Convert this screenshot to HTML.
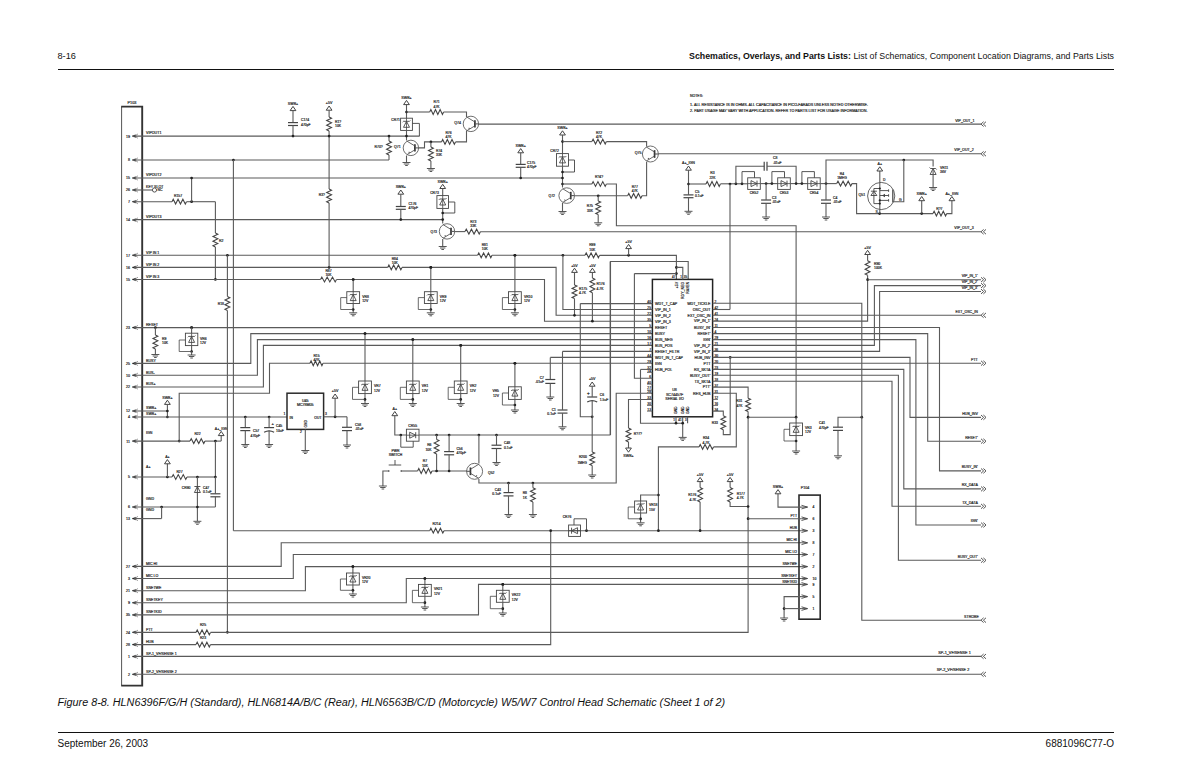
<!DOCTYPE html>
<html><head><meta charset="utf-8">
<style>
html,body{margin:0;padding:0;background:#fff;}
body{width:1200px;height:776px;position:relative;overflow:hidden;font-family:"Liberation Sans",sans-serif;color:#111;}
.t{position:absolute;white-space:nowrap;line-height:1;}
.hr{position:absolute;background:#111;height:1.4px;}
svg{position:absolute;left:0;top:0;}
svg text{font-family:"Liberation Sans",sans-serif;stroke:#222;stroke-width:0.18px;}
</style></head><body>
<div class="t" id="pg" style="left:57.5px;top:52.3px;font-size:9.2px;">8-16</div>
<div class="t" id="ttl" style="right:86px;top:52.2px;font-size:8.8px;"><b>Schematics, Overlays, and Parts Lists:</b> List of Schematics, Component Location Diagrams, and Parts Lists</div>
<div class="hr" style="left:58px;top:68.6px;width:1056px;"></div>
<div class="t" id="cap" style="left:57.5px;top:697px;font-size:10.82px;font-style:italic;">Figure 8-8. HLN6396F/G/H (Standard), HLN6814A/B/C (Rear), HLN6563B/C/D (Motorcycle) W5/W7 Control Head Schematic (Sheet 1 of 2)</div>
<div class="hr" style="left:58px;top:731.9px;width:1056px;"></div>
<div class="t" id="date" style="left:57.5px;top:738.5px;font-size:10px;">September 26, 2003</div>
<div class="t" id="doc" style="right:86px;top:738.7px;font-size:10px;">6881096C77-O</div>
<svg width="1200" height="776" viewBox="0 0 1200 776" id="sch" font-family="Liberation Sans, sans-serif">
<text x="132" y="104.2" font-size="3.8" text-anchor="middle" fill="#1a1a1a">P103</text>
<path d="M121.6,106.6V685.6" stroke="#555" stroke-width="1" fill="none"/>
<path d="M121.2,106.6H142.2V685.6H121.2" stroke="#333" stroke-width="1.9" fill="none"/>
<text x="130" y="137.5" font-size="3.6" text-anchor="end" fill="#1a1a1a">19</text>
<path d="M132,136.1L135.7,134.8V137.4Z" fill="#222" stroke="#222" stroke-width="0.4"/>
<path d="M138,133.9L134.6,136.1L138,138.3" fill="none" stroke="#777" stroke-width="0.7"/>
<text x="146" y="134.4" font-size="3.6" text-anchor="start" fill="#1a1a1a">VIPOUT1</text>
<text x="130" y="161.4" font-size="3.6" text-anchor="end" fill="#1a1a1a">8</text>
<path d="M132,160L135.7,158.7V161.3Z" fill="#222" stroke="#222" stroke-width="0.4"/>
<path d="M138,157.8L134.6,160L138,162.2" fill="none" stroke="#777" stroke-width="0.7"/>
<text x="130" y="179.4" font-size="3.6" text-anchor="end" fill="#1a1a1a">15</text>
<path d="M132,178L135.7,176.7V179.3Z" fill="#222" stroke="#222" stroke-width="0.4"/>
<path d="M138,175.8L134.6,178L138,180.2" fill="none" stroke="#777" stroke-width="0.7"/>
<text x="146" y="176.3" font-size="3.6" text-anchor="start" fill="#1a1a1a">VIPOUT2</text>
<text x="130" y="191.4" font-size="3.6" text-anchor="end" fill="#1a1a1a">26</text>
<path d="M132,190L135.7,188.7V191.3Z" fill="#222" stroke="#222" stroke-width="0.4"/>
<path d="M138,187.8L134.6,190L138,192.2" fill="none" stroke="#777" stroke-width="0.7"/>
<text x="146" y="188.3" font-size="3.6" text-anchor="start" fill="#1a1a1a">KEY SLOT</text>
<text x="130" y="203.1" font-size="3.6" text-anchor="end" fill="#1a1a1a">7</text>
<path d="M132,201.7L135.7,200.4V203Z" fill="#222" stroke="#222" stroke-width="0.4"/>
<path d="M138,199.5L134.6,201.7L138,203.9" fill="none" stroke="#777" stroke-width="0.7"/>
<text x="130" y="221.4" font-size="3.6" text-anchor="end" fill="#1a1a1a">14</text>
<path d="M132,220L135.7,218.7V221.3Z" fill="#222" stroke="#222" stroke-width="0.4"/>
<path d="M138,217.8L134.6,220L138,222.2" fill="none" stroke="#777" stroke-width="0.7"/>
<text x="146" y="218.3" font-size="3.6" text-anchor="start" fill="#1a1a1a">VIPOUT3</text>
<text x="130" y="256.6" font-size="3.6" text-anchor="end" fill="#1a1a1a">17</text>
<path d="M132,255.2L135.7,253.9V256.5Z" fill="#222" stroke="#222" stroke-width="0.4"/>
<path d="M138,253L134.6,255.2L138,257.4" fill="none" stroke="#777" stroke-width="0.7"/>
<text x="146" y="253.5" font-size="3.6" text-anchor="start" fill="#1a1a1a">VIP IN 1</text>
<text x="130" y="268.8" font-size="3.6" text-anchor="end" fill="#1a1a1a">16</text>
<path d="M132,267.4L135.7,266.1V268.7Z" fill="#222" stroke="#222" stroke-width="0.4"/>
<path d="M138,265.2L134.6,267.4L138,269.6" fill="none" stroke="#777" stroke-width="0.7"/>
<text x="146" y="265.7" font-size="3.6" text-anchor="start" fill="#1a1a1a">VIP IN 2</text>
<text x="130" y="280.8" font-size="3.6" text-anchor="end" fill="#1a1a1a">15</text>
<path d="M132,279.4L135.7,278.1V280.7Z" fill="#222" stroke="#222" stroke-width="0.4"/>
<path d="M138,277.2L134.6,279.4L138,281.6" fill="none" stroke="#777" stroke-width="0.7"/>
<text x="146" y="277.7" font-size="3.6" text-anchor="start" fill="#1a1a1a">VIP IN 3</text>
<text x="130" y="329" font-size="3.6" text-anchor="end" fill="#1a1a1a">23</text>
<path d="M132,327.6L135.7,326.3V328.9Z" fill="#222" stroke="#222" stroke-width="0.4"/>
<path d="M138,325.4L134.6,327.6L138,329.8" fill="none" stroke="#777" stroke-width="0.7"/>
<text x="146" y="325.9" font-size="3.6" text-anchor="start" fill="#1a1a1a">RESET</text>
<text x="130" y="364.8" font-size="3.6" text-anchor="end" fill="#1a1a1a">25</text>
<path d="M132,363.4L135.7,362.1V364.7Z" fill="#222" stroke="#222" stroke-width="0.4"/>
<path d="M138,361.2L134.6,363.4L138,365.6" fill="none" stroke="#777" stroke-width="0.7"/>
<text x="146" y="361.7" font-size="3.6" text-anchor="start" fill="#1a1a1a">BUSY</text>
<text x="130" y="376.6" font-size="3.6" text-anchor="end" fill="#1a1a1a">10</text>
<path d="M132,375.2L135.7,373.9V376.5Z" fill="#222" stroke="#222" stroke-width="0.4"/>
<path d="M138,373L134.6,375.2L138,377.4" fill="none" stroke="#777" stroke-width="0.7"/>
<text x="146" y="373.5" font-size="3.6" text-anchor="start" fill="#1a1a1a">BUS-</text>
<text x="130" y="388.4" font-size="3.6" text-anchor="end" fill="#1a1a1a">22</text>
<path d="M132,387L135.7,385.7V388.3Z" fill="#222" stroke="#222" stroke-width="0.4"/>
<path d="M138,384.8L134.6,387L138,389.2" fill="none" stroke="#777" stroke-width="0.7"/>
<text x="146" y="385.3" font-size="3.6" text-anchor="start" fill="#1a1a1a">BUS+</text>
<text x="130" y="412.4" font-size="3.6" text-anchor="end" fill="#1a1a1a">12</text>
<path d="M132,411L135.7,409.7V412.3Z" fill="#222" stroke="#222" stroke-width="0.4"/>
<path d="M138,408.8L134.6,411L138,413.2" fill="none" stroke="#777" stroke-width="0.7"/>
<text x="146" y="409.3" font-size="3.6" text-anchor="start" fill="#1a1a1a">SWB+</text>
<text x="130" y="418.4" font-size="3.6" text-anchor="end" fill="#1a1a1a">4</text>
<path d="M132,417L135.7,415.7V418.3Z" fill="#222" stroke="#222" stroke-width="0.4"/>
<path d="M138,414.8L134.6,417L138,419.2" fill="none" stroke="#777" stroke-width="0.7"/>
<text x="146" y="415.3" font-size="3.6" text-anchor="start" fill="#1a1a1a">SWB+</text>
<text x="130" y="442.5" font-size="3.6" text-anchor="end" fill="#1a1a1a">11</text>
<path d="M132,441.1L135.7,439.8V442.4Z" fill="#222" stroke="#222" stroke-width="0.4"/>
<path d="M138,438.9L134.6,441.1L138,443.3" fill="none" stroke="#777" stroke-width="0.7"/>
<text x="130" y="478.4" font-size="3.6" text-anchor="end" fill="#1a1a1a">5</text>
<path d="M132,477L135.7,475.7V478.3Z" fill="#222" stroke="#222" stroke-width="0.4"/>
<path d="M138,474.8L134.6,477L138,479.2" fill="none" stroke="#777" stroke-width="0.7"/>
<text x="130" y="508.4" font-size="3.6" text-anchor="end" fill="#1a1a1a">6</text>
<path d="M132,507L135.7,505.7V508.3Z" fill="#222" stroke="#222" stroke-width="0.4"/>
<path d="M138,504.8L134.6,507L138,509.2" fill="none" stroke="#777" stroke-width="0.7"/>
<text x="146" y="499.8" font-size="3.6" text-anchor="start" fill="#1a1a1a">GND</text>
<text x="130" y="520" font-size="3.6" text-anchor="end" fill="#1a1a1a">13</text>
<path d="M132,518.6L135.7,517.3V519.9Z" fill="#222" stroke="#222" stroke-width="0.4"/>
<path d="M138,516.4L134.6,518.6L138,520.8" fill="none" stroke="#777" stroke-width="0.7"/>
<text x="146" y="511.4" font-size="3.6" text-anchor="start" fill="#1a1a1a">GND</text>
<text x="130" y="567.8" font-size="3.6" text-anchor="end" fill="#1a1a1a">27</text>
<path d="M132,566.4L135.7,565.1V567.7Z" fill="#222" stroke="#222" stroke-width="0.4"/>
<path d="M138,564.2L134.6,566.4L138,568.6" fill="none" stroke="#777" stroke-width="0.7"/>
<text x="146" y="564.7" font-size="3.6" text-anchor="start" fill="#1a1a1a">MIC HI</text>
<text x="130" y="579.9" font-size="3.6" text-anchor="end" fill="#1a1a1a">3</text>
<path d="M132,578.5L135.7,577.2V579.8Z" fill="#222" stroke="#222" stroke-width="0.4"/>
<path d="M138,576.3L134.6,578.5L138,580.7" fill="none" stroke="#777" stroke-width="0.7"/>
<text x="146" y="576.8" font-size="3.6" text-anchor="start" fill="#1a1a1a">MIC LO</text>
<text x="130" y="592.1" font-size="3.6" text-anchor="end" fill="#1a1a1a">21</text>
<path d="M132,590.7L135.7,589.4V592Z" fill="#222" stroke="#222" stroke-width="0.4"/>
<path d="M138,588.5L134.6,590.7L138,592.9" fill="none" stroke="#777" stroke-width="0.7"/>
<text x="146" y="589" font-size="3.6" text-anchor="start" fill="#1a1a1a">SNETWE</text>
<text x="130" y="604.2" font-size="3.6" text-anchor="end" fill="#1a1a1a">9</text>
<path d="M132,602.8L135.7,601.5V604.1Z" fill="#222" stroke="#222" stroke-width="0.4"/>
<path d="M138,600.6L134.6,602.8L138,605" fill="none" stroke="#777" stroke-width="0.7"/>
<text x="146" y="601.1" font-size="3.6" text-anchor="start" fill="#1a1a1a">SNETKEY</text>
<text x="130" y="616.3" font-size="3.6" text-anchor="end" fill="#1a1a1a">35</text>
<path d="M132,614.9L135.7,613.6V616.2Z" fill="#222" stroke="#222" stroke-width="0.4"/>
<path d="M138,612.7L134.6,614.9L138,617.1" fill="none" stroke="#777" stroke-width="0.7"/>
<text x="146" y="613.2" font-size="3.6" text-anchor="start" fill="#1a1a1a">SNETKID</text>
<text x="130" y="633.7" font-size="3.6" text-anchor="end" fill="#1a1a1a">24</text>
<path d="M132,632.3L135.7,631V633.6Z" fill="#222" stroke="#222" stroke-width="0.4"/>
<path d="M138,630.1L134.6,632.3L138,634.5" fill="none" stroke="#777" stroke-width="0.7"/>
<text x="146" y="630.6" font-size="3.6" text-anchor="start" fill="#1a1a1a">PTT</text>
<text x="130" y="646" font-size="3.6" text-anchor="end" fill="#1a1a1a">28</text>
<path d="M132,644.6L135.7,643.3V645.9Z" fill="#222" stroke="#222" stroke-width="0.4"/>
<path d="M138,642.4L134.6,644.6L138,646.8" fill="none" stroke="#777" stroke-width="0.7"/>
<text x="146" y="642.9" font-size="3.6" text-anchor="start" fill="#1a1a1a">HUB</text>
<text x="130" y="657.9" font-size="3.6" text-anchor="end" fill="#1a1a1a">1</text>
<path d="M132,656.5L135.7,655.2V657.8Z" fill="#222" stroke="#222" stroke-width="0.4"/>
<path d="M138,654.3L134.6,656.5L138,658.7" fill="none" stroke="#777" stroke-width="0.7"/>
<text x="146" y="654.8" font-size="3.6" text-anchor="start" fill="#1a1a1a">SP-1_VF/SENSE 1</text>
<text x="130" y="675.7" font-size="3.6" text-anchor="end" fill="#1a1a1a">2</text>
<path d="M132,674.3L135.7,673V675.6Z" fill="#222" stroke="#222" stroke-width="0.4"/>
<path d="M138,672.1L134.6,674.3L138,676.5" fill="none" stroke="#777" stroke-width="0.7"/>
<text x="146" y="672.6" font-size="3.6" text-anchor="start" fill="#1a1a1a">SP-2_VF/SENSE 2</text>
<text x="146" y="433.5" font-size="3.6" text-anchor="start" fill="#1a1a1a">IGN</text>
<text x="146" y="468" font-size="3.6" text-anchor="start" fill="#1a1a1a">A+</text>
<polyline points="134.5,136.1 419.6,136.1" fill="none" stroke="#5a5a5a" stroke-width="1.1"/>
<polyline points="134.5,160 389,160" fill="none" stroke="#5a5a5a" stroke-width="1.1"/>
<polyline points="134.5,178 562.5,178" fill="none" stroke="#5a5a5a" stroke-width="1.1"/>
<polyline points="134.5,190 152.3,190" fill="none" stroke="#5a5a5a" stroke-width="1.1"/>
<circle cx="154.5" cy="190" r="2.1" fill="none" stroke="#444" stroke-width="0.9"/>
<text x="157.5" y="191.4" font-size="3.4" text-anchor="start" fill="#1a1a1a">NC</text>
<polyline points="134.5,201.7 172,201.7" fill="none" stroke="#5a5a5a" stroke-width="1.1"/>
<polyline points="172,201.7 173.21,199.3 175.62,204.1 178.04,199.3 180.46,204.1 182.88,199.3 185.29,204.1 186.5,201.7" fill="none" stroke="#444" stroke-width="1.1"/>
<polyline points="186.5,201.7 215.4,201.7" fill="none" stroke="#5a5a5a" stroke-width="1.1"/>
<polyline points="215.4,201.7 215.4,233" fill="none" stroke="#5a5a5a" stroke-width="1.1"/>
<polyline points="215.4,233 217.8,234.17 213,236.5 217.8,238.83 213,241.17 217.8,243.5 213,245.83 215.4,247" fill="none" stroke="#444" stroke-width="1.1"/>
<polyline points="215.4,247 215.4,279.4" fill="none" stroke="#5a5a5a" stroke-width="1.1"/>
<circle cx="191.6" cy="201.7" r="1.35" fill="#222"/>
<polyline points="191.6,178 191.6,201.7" fill="none" stroke="#5a5a5a" stroke-width="1.1"/>
<circle cx="191.6" cy="178" r="1.35" fill="#222"/>
<text x="178" y="197" font-size="3.4" text-anchor="middle" fill="#1a1a1a">R157</text>
<text x="219" y="241.5" font-size="3.4" text-anchor="start" fill="#1a1a1a">R2</text>
<circle cx="215.4" cy="279.4" r="1.35" fill="#222"/>
<polyline points="134.5,219.6 442.7,219.6" fill="none" stroke="#5a5a5a" stroke-width="1.1"/>
<polyline points="134.5,255.3 477.6,255.3" fill="none" stroke="#5a5a5a" stroke-width="1.1"/>
<polyline points="477.6,255.3 478.8,252.9 481.2,257.7 483.6,252.9 486,257.7 488.4,252.9 490.8,257.7 492,255.3" fill="none" stroke="#444" stroke-width="1.1"/>
<polyline points="492,255.3 585,255.3" fill="none" stroke="#5a5a5a" stroke-width="1.1"/>
<polyline points="585,255.3 586.22,252.9 588.65,257.7 591.08,252.9 593.52,257.7 595.95,252.9 598.38,257.7 599.6,255.3" fill="none" stroke="#444" stroke-width="1.1"/>
<polyline points="599.6,255.4 676.4,255.4 676.4,279.4" fill="none" stroke="#5a5a5a" stroke-width="1.1"/>
<text x="484.8" y="246.2" font-size="3.4" text-anchor="middle" fill="#1a1a1a">R81</text>
<text x="484.8" y="250.4" font-size="3.4" text-anchor="middle" fill="#1a1a1a">10K</text>
<text x="592.3" y="246.4" font-size="3.4" text-anchor="middle" fill="#1a1a1a">R99</text>
<text x="592.3" y="250.6" font-size="3.4" text-anchor="middle" fill="#1a1a1a">10K</text>
<circle cx="227.4" cy="255.3" r="1.35" fill="#222"/>
<circle cx="514.9" cy="255.3" r="1.35" fill="#222"/>
<circle cx="562.9" cy="255.3" r="1.35" fill="#222"/>
<circle cx="628.6" cy="255.3" r="1.35" fill="#222"/>
<path d="M625.7,248.6L628.6,244.4L631.5,248.6Z" fill="none" stroke="#444" stroke-width="1"/>
<text x="628.6" y="242.8" font-size="3.6" text-anchor="middle" fill="#1a1a1a">+5V</text>
<polyline points="628.6,248.6 628.6,255.3" fill="none" stroke="#5a5a5a" stroke-width="1.1"/>
<circle cx="676.4" cy="267.4" r="1.35" fill="#222"/>
<circle cx="676.4" cy="273.6" r="1.35" fill="#222"/>
<polyline points="134.5,267.4 387.7,267.4" fill="none" stroke="#5a5a5a" stroke-width="1.1"/>
<polyline points="387.7,267.4 388.89,265 391.27,269.8 393.66,265 396.04,269.8 398.43,265 400.81,269.8 402,267.4" fill="none" stroke="#444" stroke-width="1.1"/>
<polyline points="402,267.4 556.1,267.4 556.1,315.3 652.4,315.3" fill="none" stroke="#5a5a5a" stroke-width="1.1"/>
<text x="394.8" y="259.6" font-size="3.4" text-anchor="middle" fill="#1a1a1a">R84</text>
<text x="394.8" y="263.8" font-size="3.4" text-anchor="middle" fill="#1a1a1a">10K</text>
<circle cx="329.1" cy="267.4" r="1.35" fill="#222"/>
<circle cx="430.8" cy="267.4" r="1.35" fill="#222"/>
<polyline points="134.5,279.5 320.5,279.5" fill="none" stroke="#5a5a5a" stroke-width="1.1"/>
<polyline points="320.5,279.5 321.83,277.1 324.5,281.9 327.17,277.1 329.83,281.9 332.5,277.1 335.17,281.9 336.5,279.5" fill="none" stroke="#444" stroke-width="1.1"/>
<polyline points="336.5,279.5 544.5,279.5 544.5,321.2 652.4,321.2" fill="none" stroke="#5a5a5a" stroke-width="1.1"/>
<text x="328.5" y="271.8" font-size="3.4" text-anchor="middle" fill="#1a1a1a">R87</text>
<text x="328.5" y="276.1" font-size="3.4" text-anchor="middle" fill="#1a1a1a">10K</text>
<circle cx="353.2" cy="279.5" r="1.35" fill="#222"/>
<polyline points="134.5,327.6 652.4,327.6" fill="none" stroke="#5a5a5a" stroke-width="1.1"/>
<circle cx="155.4" cy="327.6" r="1.35" fill="#222"/>
<circle cx="191.6" cy="327.6" r="1.35" fill="#222"/>
<polyline points="134.5,363.4 250.8,363.4 250.8,333.6 652.4,333.6" fill="none" stroke="#5a5a5a" stroke-width="1.1"/>
<circle cx="365" cy="333.6" r="1.35" fill="#222"/>
<polyline points="134.5,375.2 257.4,375.2 257.4,339.6 652.4,339.6" fill="none" stroke="#5a5a5a" stroke-width="1.1"/>
<circle cx="412.8" cy="339.6" r="1.35" fill="#222"/>
<polyline points="134.5,387 263.4,387 263.4,345.4 652.4,345.4" fill="none" stroke="#5a5a5a" stroke-width="1.1"/>
<circle cx="460.7" cy="345.4" r="1.35" fill="#222"/>
<polyline points="179.2,441.1 179.2,393.2 269.5,393.2 269.5,363.3 310,363.3" fill="none" stroke="#5a5a5a" stroke-width="1.1"/>
<polyline points="310,363.3 311.08,360.9 313.25,365.7 315.42,360.9 317.58,365.7 319.75,360.9 321.92,365.7 323,363.3" fill="none" stroke="#444" stroke-width="1.1"/>
<polyline points="323,363.3 652.4,363.3" fill="none" stroke="#5a5a5a" stroke-width="1.1"/>
<circle cx="514.9" cy="363.3" r="1.35" fill="#222"/>
<text x="316.5" y="356.5" font-size="3.4" text-anchor="middle" fill="#1a1a1a">R15</text>
<text x="316.5" y="360.8" font-size="3.4" text-anchor="middle" fill="#1a1a1a">47K</text>
<circle cx="179.2" cy="441.1" r="1.35" fill="#222"/>
<polyline points="155.4,327.6 155.4,335" fill="none" stroke="#5a5a5a" stroke-width="1.1"/>
<polyline points="155.4,335 157.8,336.17 153,338.5 157.8,340.83 153,343.17 157.8,345.5 153,347.83 155.4,349" fill="none" stroke="#444" stroke-width="1.1"/>
<polyline points="155.4,349 155.4,354.5" fill="none" stroke="#5a5a5a" stroke-width="1.1"/>
<path d="M151.4,354.5H159.4M152.7,356H158.1M154.1,357.5H156.7" stroke="#444" stroke-width="0.9" fill="none"/>
<text x="162" y="340" font-size="3.4" text-anchor="start" fill="#1a1a1a">R9</text>
<text x="162" y="344.3" font-size="3.4" text-anchor="start" fill="#1a1a1a">10K</text>
<circle cx="191.6" cy="327.6" r="1.35" fill="#222"/>
<polyline points="191.6,327.6 191.6,333" fill="none" stroke="#5a5a5a" stroke-width="1.1"/>
<rect x="185.4" y="333.2" width="12.4" height="12.4" fill="none" stroke="#444" stroke-width="0.9"/>
<path d="M188.6,342.4L191.6,336.4L194.6,342.4Z" fill="none" stroke="#444" stroke-width="0.9"/>
<path d="M187.8,337.2L188.6,336.4H194.6L195.4,335.6" fill="none" stroke="#444" stroke-width="0.9"/>
<polyline points="191.6,333.2 191.6,345.6" fill="none" stroke="#444" stroke-width="0.8"/>
<polyline points="191.6,345.6 191.6,351.5" fill="none" stroke="#5a5a5a" stroke-width="1.1"/>
<circle cx="191.6" cy="351.5" r="1.35" fill="#222"/>
<polyline points="185.4,340 179.2,340 179.2,351.5 191.6,351.5" fill="none" stroke="#444" stroke-width="0.8"/>
<polyline points="191.6,351.5 191.6,355" fill="none" stroke="#5a5a5a" stroke-width="1.1"/>
<path d="M187.6,355H195.6M188.9,356.5H194.3M190.3,358H192.9" stroke="#444" stroke-width="0.9" fill="none"/>
<text x="200" y="340" font-size="3.4" text-anchor="start" fill="#1a1a1a">VR6</text>
<text x="200" y="344.3" font-size="3.4" text-anchor="start" fill="#1a1a1a">12V</text>
<polyline points="134.5,411 167.4,411" fill="none" stroke="#5a5a5a" stroke-width="1.1"/>
<path d="M164.5,404.4L167.4,400.2L170.3,404.4Z" fill="none" stroke="#444" stroke-width="1"/>
<text x="167.4" y="398.6" font-size="3.6" text-anchor="middle" fill="#1a1a1a">SWB+</text>
<polyline points="167.4,404.4 167.4,417" fill="none" stroke="#5a5a5a" stroke-width="1.1"/>
<circle cx="167.4" cy="411" r="1.35" fill="#222"/>
<circle cx="167.4" cy="417" r="1.35" fill="#222"/>
<polyline points="134.5,417 287,417" fill="none" stroke="#5a5a5a" stroke-width="1.1"/>
<circle cx="245.3" cy="417" r="1.35" fill="#222"/>
<circle cx="269.1" cy="417" r="1.35" fill="#222"/>
<polyline points="245.3,417 245.3,427.4" fill="none" stroke="#5a5a5a" stroke-width="1.1"/>
<line x1="240.3" y1="427.6" x2="250.3" y2="427.6" stroke="#444" stroke-width="1.2"/>
<line x1="240.3" y1="430.6" x2="250.3" y2="430.6" stroke="#444" stroke-width="1.2"/>
<polyline points="245.3,430.6 245.3,444.5" fill="none" stroke="#5a5a5a" stroke-width="1.1"/>
<path d="M241.3,444.5H249.3M242.6,446H248M244,447.5H246.6" stroke="#444" stroke-width="0.9" fill="none"/>
<text x="253" y="432.3" font-size="3.4" text-anchor="start" fill="#1a1a1a">C57</text>
<text x="250.5" y="436.7" font-size="3.4" text-anchor="start" fill="#1a1a1a">470pF</text>
<polyline points="269.1,417 269.1,427.4" fill="none" stroke="#5a5a5a" stroke-width="1.1"/>
<line x1="264.1" y1="427.6" x2="274.1" y2="427.6" stroke="#444" stroke-width="1.2"/>
<path d="M264.1,432.3 Q269.1,429.3 274.1,432.3" fill="none" stroke="#444" stroke-width="1.2"/>
<polyline points="269.1,430.8 269.1,444.5" fill="none" stroke="#5a5a5a" stroke-width="1.1"/>
<path d="M265.1,444.5H273.1M266.4,446H271.8M267.8,447.5H270.4" stroke="#444" stroke-width="0.9" fill="none"/>
<text x="271.6" y="425.3" font-size="4" text-anchor="start" fill="#1a1a1a">+</text>
<text x="276" y="427.3" font-size="3.4" text-anchor="start" fill="#1a1a1a">C45</text>
<text x="276" y="431.8" font-size="3.4" text-anchor="start" fill="#1a1a1a">10uF</text>
<rect x="287" y="393.2" width="36.6" height="36.2" fill="none" stroke="#2a2a2a" stroke-width="1.5"/>
<text x="305.3" y="402" font-size="3.6" text-anchor="middle" fill="#1a1a1a">U45</text>
<text x="305.3" y="406.2" font-size="3.6" text-anchor="middle" fill="#1a1a1a">MC78M05</text>
<text x="289.5" y="418.5" font-size="3.4" text-anchor="start" fill="#1a1a1a">IN</text>
<text x="321.5" y="418.5" font-size="3.4" text-anchor="end" fill="#1a1a1a">OUT</text>
<text x="285.5" y="414.5" font-size="3.4" text-anchor="end" fill="#1a1a1a">1</text>
<text x="325" y="414.5" font-size="3.4" text-anchor="start" fill="#1a1a1a">3</text>
<text x="302" y="433" font-size="3.4" text-anchor="end" fill="#1a1a1a">2</text>
<text x="306.6" y="427.5" font-size="3.3" text-anchor="start" fill="#1a1a1a" transform="rotate(-90 306.6 427.5)">GND</text>
<polyline points="305.3,429.4 305.3,450.5" fill="none" stroke="#5a5a5a" stroke-width="1.1"/>
<path d="M301.3,450.5H309.3M302.6,452H308M304,453.5H306.6" stroke="#444" stroke-width="0.9" fill="none"/>
<polyline points="134.5,441.1 190,441.1" fill="none" stroke="#5a5a5a" stroke-width="1.1"/>
<polyline points="190,441.1 191.25,438.7 193.75,443.5 196.25,438.7 198.75,443.5 201.25,438.7 203.75,443.5 205,441.1" fill="none" stroke="#444" stroke-width="1.1"/>
<polyline points="205,441.1 221.2,441.1" fill="none" stroke="#5a5a5a" stroke-width="1.1"/>
<text x="197.5" y="435" font-size="3.4" text-anchor="middle" fill="#1a1a1a">R22</text>
<circle cx="215.4" cy="441.1" r="1.35" fill="#222"/>
<polyline points="221.2,441.1 221.2,435.6" fill="none" stroke="#5a5a5a" stroke-width="1.1"/>
<path d="M218.3,435.6L221.2,431.4L224.1,435.6Z" fill="none" stroke="#444" stroke-width="1"/>
<text x="221.2" y="429.8" font-size="3.6" text-anchor="middle" fill="#1a1a1a">A+_IGN</text>
<polyline points="215.4,441.1 215.4,477" fill="none" stroke="#5a5a5a" stroke-width="1.1"/>
<polyline points="134.5,477 172,477" fill="none" stroke="#5a5a5a" stroke-width="1.1"/>
<polyline points="172,477 173.25,474.6 175.75,479.4 178.25,474.6 180.75,479.4 183.25,474.6 185.75,479.4 187,477" fill="none" stroke="#444" stroke-width="1.1"/>
<polyline points="187,477 215.4,477" fill="none" stroke="#5a5a5a" stroke-width="1.1"/>
<text x="179.5" y="473" font-size="3.4" text-anchor="middle" fill="#1a1a1a">R27</text>
<circle cx="167.4" cy="477" r="1.35" fill="#222"/>
<polyline points="167.4,477 167.4,463.8" fill="none" stroke="#5a5a5a" stroke-width="1.1"/>
<path d="M164.5,463.8L167.4,459.6L170.3,463.8Z" fill="none" stroke="#444" stroke-width="1"/>
<text x="167.4" y="458" font-size="3.6" text-anchor="middle" fill="#1a1a1a">A+</text>
<circle cx="197.4" cy="477" r="1.35" fill="#222"/>
<circle cx="215.4" cy="477" r="1.35" fill="#222"/>
<polyline points="197.4,477 197.4,521" fill="none" stroke="#5a5a5a" stroke-width="1.1"/>
<path d="M194.4,492.5H200.4L197.4,486.5Z M194.4,486.5H200.4" fill="none" stroke="#444" stroke-width="0.9"/>
<text x="190.5" y="489.3" font-size="3.4" text-anchor="end" fill="#1a1a1a">CR90</text>
<polyline points="215.4,477 215.4,493.6" fill="none" stroke="#5a5a5a" stroke-width="1.1"/>
<line x1="210.4" y1="493.8" x2="220.4" y2="493.8" stroke="#444" stroke-width="1.2"/>
<line x1="210.4" y1="496.8" x2="220.4" y2="496.8" stroke="#444" stroke-width="1.2"/>
<polyline points="215.4,496.8 215.4,507" fill="none" stroke="#5a5a5a" stroke-width="1.1"/>
<text x="203" y="489" font-size="3.4" text-anchor="start" fill="#1a1a1a">C47</text>
<text x="203" y="493" font-size="3.4" text-anchor="start" fill="#1a1a1a">0.1uF</text>
<path d="M193.4,521.3H201.4M194.7,522.8H200.1M196.1,524.3H198.7" stroke="#444" stroke-width="0.9" fill="none"/>
<polyline points="134.5,507 215.4,507" fill="none" stroke="#5a5a5a" stroke-width="1.1"/>
<circle cx="161.6" cy="507" r="1.35" fill="#222"/>
<circle cx="197.4" cy="507" r="1.35" fill="#222"/>
<polyline points="161.6,507 161.6,518.6" fill="none" stroke="#5a5a5a" stroke-width="1.1"/>
<polyline points="134.5,518.6 161.6,518.6" fill="none" stroke="#5a5a5a" stroke-width="1.1"/>
<polyline points="227.4,255.3 227.4,296.5" fill="none" stroke="#5a5a5a" stroke-width="1.1"/>
<polyline points="227.4,296.5 229.8,297.67 225,300 229.8,302.33 225,304.67 229.8,307 225,309.33 227.4,310.5" fill="none" stroke="#444" stroke-width="1.1"/>
<polyline points="227.4,310.5 227.4,632.3" fill="none" stroke="#5a5a5a" stroke-width="1.1"/>
<circle cx="227.4" cy="632.3" r="1.35" fill="#222"/>
<text x="224" y="305" font-size="3.4" text-anchor="end" fill="#1a1a1a">R18</text>
<circle cx="233.4" cy="160" r="1.35" fill="#222"/>
<polyline points="233.4,160 233.4,530.7" fill="none" stroke="#5a5a5a" stroke-width="1.1"/>
<polyline points="233.4,530.7 429.7,530.7" fill="none" stroke="#5a5a5a" stroke-width="1.1"/>
<polyline points="429.7,530.7 430.89,528.3 433.27,533.1 435.66,528.3 438.04,533.1 440.43,528.3 442.81,533.1 444,530.7" fill="none" stroke="#444" stroke-width="1.1"/>
<polyline points="444,530.7 801.9,530.7" fill="none" stroke="#5a5a5a" stroke-width="1.1"/>
<text x="436.5" y="524.5" font-size="3.4" text-anchor="middle" fill="#1a1a1a">R214</text>
<polyline points="134.5,566.4 281.2,566.4 281.2,542.8 801.9,542.8" fill="none" stroke="#5a5a5a" stroke-width="1.1"/>
<polyline points="134.5,578.5 293.3,578.5 293.3,554.5 801.9,554.5" fill="none" stroke="#5a5a5a" stroke-width="1.1"/>
<polyline points="134.5,590.7 305.4,590.7 305.4,566.6 801.9,566.6" fill="none" stroke="#5a5a5a" stroke-width="1.1"/>
<circle cx="352.9" cy="566.6" r="1.35" fill="#222"/>
<polyline points="134.5,602.8 406.3,602.8 406.3,578.5 801.9,578.5" fill="none" stroke="#5a5a5a" stroke-width="1.1"/>
<circle cx="424.9" cy="578.5" r="1.35" fill="#222"/>
<polyline points="134.5,614.9 478.5,614.9 478.5,584.4 801.9,584.4" fill="none" stroke="#5a5a5a" stroke-width="1.1"/>
<circle cx="502.8" cy="584.4" r="1.35" fill="#222"/>
<polyline points="134.5,632.4 196,632.4" fill="none" stroke="#5a5a5a" stroke-width="1.1"/>
<polyline points="196,632.4 197.21,630 199.62,634.8 202.04,630 204.46,634.8 206.88,630 209.29,634.8 210.5,632.4" fill="none" stroke="#444" stroke-width="1.1"/>
<polyline points="210.5,632.4 748.1,632.4 748.1,411.5" fill="none" stroke="#5a5a5a" stroke-width="1.1"/>
<text x="203" y="626" font-size="3.4" text-anchor="middle" fill="#1a1a1a">R25</text>
<polyline points="134.5,644.6 196,644.6" fill="none" stroke="#5a5a5a" stroke-width="1.1"/>
<polyline points="196,644.6 197.21,642.2 199.62,647 202.04,642.2 204.46,647 206.88,642.2 209.29,647 210.5,644.6" fill="none" stroke="#444" stroke-width="1.1"/>
<polyline points="210.5,644.6 550.7,644.6 550.7,530.7" fill="none" stroke="#5a5a5a" stroke-width="1.1"/>
<circle cx="550.7" cy="530.7" r="1.35" fill="#222"/>
<text x="203" y="638.5" font-size="3.4" text-anchor="middle" fill="#1a1a1a">R23</text>
<polyline points="134.5,656.4 981,656.4" fill="none" stroke="#5a5a5a" stroke-width="1.1"/>
<polyline points="134.5,674.3 981,674.3" fill="none" stroke="#5a5a5a" stroke-width="1.1"/>
<path d="M290.1,110.6L293,106.4L295.9,110.6Z" fill="none" stroke="#444" stroke-width="1"/>
<text x="293" y="104.8" font-size="3.6" text-anchor="middle" fill="#1a1a1a">SWB+</text>
<polyline points="293,110.6 293,122.4" fill="none" stroke="#5a5a5a" stroke-width="1.1"/>
<line x1="288" y1="122.6" x2="298" y2="122.6" stroke="#444" stroke-width="1.2"/>
<line x1="288" y1="125.5" x2="298" y2="125.5" stroke="#444" stroke-width="1.2"/>
<polyline points="293,125.5 293,136.1" fill="none" stroke="#5a5a5a" stroke-width="1.1"/>
<circle cx="293" cy="136.1" r="1.35" fill="#222"/>
<text x="301" y="121.2" font-size="3.4" text-anchor="start" fill="#1a1a1a">C174</text>
<text x="301" y="125.8" font-size="3.4" text-anchor="start" fill="#1a1a1a">470pF</text>
<path d="M326.2,110.2L329.1,106L332,110.2Z" fill="none" stroke="#444" stroke-width="1"/>
<text x="329.1" y="104.4" font-size="3.6" text-anchor="middle" fill="#1a1a1a">+5V</text>
<polyline points="329.1,110.2 329.1,117" fill="none" stroke="#5a5a5a" stroke-width="1.1"/>
<polyline points="329.1,117 331.5,118.17 326.7,120.5 331.5,122.83 326.7,125.17 331.5,127.5 326.7,129.83 329.1,131" fill="none" stroke="#444" stroke-width="1.1"/>
<polyline points="329.1,131 329.1,189" fill="none" stroke="#5a5a5a" stroke-width="1.1"/>
<polyline points="329.1,189 331.5,190.17 326.7,192.5 331.5,194.83 326.7,197.17 331.5,199.5 326.7,201.83 329.1,203" fill="none" stroke="#444" stroke-width="1.1"/>
<polyline points="329.1,203 329.1,267.4" fill="none" stroke="#5a5a5a" stroke-width="1.1"/>
<circle cx="329.1" cy="136.1" r="1.35" fill="#222"/>
<text x="335" y="123" font-size="3.4" text-anchor="start" fill="#1a1a1a">R1?</text>
<text x="335" y="127.3" font-size="3.4" text-anchor="start" fill="#1a1a1a">10K</text>
<text x="325" y="195.5" font-size="3.4" text-anchor="end" fill="#1a1a1a">R3?</text>
<polyline points="389,136.1 389,141" fill="none" stroke="#5a5a5a" stroke-width="1.1"/>
<polyline points="389,141 391.4,142.17 386.6,144.5 391.4,146.83 386.6,149.17 391.4,151.5 386.6,153.83 389,155" fill="none" stroke="#444" stroke-width="1.1"/>
<polyline points="389,155 389,160" fill="none" stroke="#5a5a5a" stroke-width="1.1"/>
<circle cx="389" cy="136.1" r="1.35" fill="#222"/>
<text x="382.7" y="148.3" font-size="3.4" text-anchor="end" fill="#1a1a1a">R70?</text>
<path d="M403.6,104.6L406.5,100.4L409.4,104.6Z" fill="none" stroke="#444" stroke-width="1"/>
<text x="406.5" y="98.8" font-size="3.6" text-anchor="middle" fill="#1a1a1a">SWB+</text>
<polyline points="406.5,104.6 406.5,118.2" fill="none" stroke="#5a5a5a" stroke-width="1.1"/>
<circle cx="406.5" cy="112" r="1.35" fill="#222"/>
<rect x="400.6" y="118.2" width="11.8" height="12.2" fill="none" stroke="#444" stroke-width="0.9"/>
<path d="M403.5,127.3L406.5,121.3L409.5,127.3Z" fill="none" stroke="#444" stroke-width="0.9"/>
<path d="M402.7,122.1L403.5,121.3H409.5L410.3,120.5" fill="none" stroke="#444" stroke-width="0.9"/>
<polyline points="406.5,118.2 406.5,130.4" fill="none" stroke="#444" stroke-width="0.8"/>
<polyline points="412.4,123.4 419.4,123.4 419.4,136.1" fill="none" stroke="#444" stroke-width="0.9"/>
<polyline points="406.5,130.4 406.5,140.5" fill="none" stroke="#5a5a5a" stroke-width="1.1"/>
<circle cx="406.5" cy="136.1" r="1.35" fill="#222"/>
<text x="400" y="120.5" font-size="3.4" text-anchor="end" fill="#1a1a1a">CR71</text>
<polyline points="406.5,112 429.7,112" fill="none" stroke="#5a5a5a" stroke-width="1.1"/>
<polyline points="429.7,112 430.86,109.6 433.18,114.4 435.49,109.6 437.81,114.4 440.12,109.6 442.44,114.4 443.6,112" fill="none" stroke="#444" stroke-width="1.1"/>
<polyline points="443.6,112 466.5,112 466.5,117" fill="none" stroke="#5a5a5a" stroke-width="1.1"/>
<text x="436.6" y="103" font-size="3.4" text-anchor="middle" fill="#1a1a1a">R71</text>
<text x="436.6" y="107.5" font-size="3.4" text-anchor="middle" fill="#1a1a1a">47K</text>
<circle cx="410.9" cy="147.9" r="7.7" fill="none" stroke="#555" stroke-width="0.85"/>
<path d="M414.9,144.2V151.6" fill="none" stroke="#333" stroke-width="1.7"/>
<path d="M414.9,145.97L407.05,141.2M414.9,149.83L407.05,154.6" fill="none" stroke="#555" stroke-width="0.9"/>
<path d="M414.9,147.9H418.6" fill="none" stroke="#555" stroke-width="1.1"/>
<path d="M408.25,152.4L410.25,153L409.05,151.4Z" fill="#444" stroke="none"/>
<polyline points="418.6,147.9 424.5,147.9 424.5,141.9 441.5,141.9" fill="none" stroke="#5a5a5a" stroke-width="1.1"/>
<polyline points="441.5,141.9 442.67,139.5 445,144.3 447.33,139.5 449.67,144.3 452,139.5 454.33,144.3 455.5,141.9" fill="none" stroke="#444" stroke-width="1.1"/>
<polyline points="455.5,141.9 466.5,141.9 466.5,130.6" fill="none" stroke="#5a5a5a" stroke-width="1.1"/>
<circle cx="430.9" cy="141.9" r="1.35" fill="#222"/>
<text x="448.5" y="133.5" font-size="3.4" text-anchor="middle" fill="#1a1a1a">R76</text>
<text x="448.5" y="138" font-size="3.4" text-anchor="middle" fill="#1a1a1a">47K</text>
<text x="400.8" y="148.3" font-size="3.6" text-anchor="end" fill="#1a1a1a">Q71</text>
<polyline points="406.5,155.5 406.5,162.5" fill="none" stroke="#5a5a5a" stroke-width="1.1"/>
<path d="M402.5,162.5H410.5M403.8,164H409.2M405.2,165.5H407.8" stroke="#444" stroke-width="0.9" fill="none"/>
<polyline points="430.9,141.9 430.9,147" fill="none" stroke="#5a5a5a" stroke-width="1.1"/>
<polyline points="430.9,147 433.3,148.17 428.5,150.5 433.3,152.83 428.5,155.17 433.3,157.5 428.5,159.83 430.9,161" fill="none" stroke="#444" stroke-width="1.1"/>
<polyline points="430.9,161 430.9,168.5" fill="none" stroke="#5a5a5a" stroke-width="1.1"/>
<path d="M426.9,168.5H434.9M428.2,170H433.6M429.6,171.5H432.2" stroke="#444" stroke-width="0.9" fill="none"/>
<text x="436" y="151.5" font-size="3.4" text-anchor="start" fill="#1a1a1a">R74</text>
<text x="436" y="156" font-size="3.4" text-anchor="start" fill="#1a1a1a">33K</text>
<circle cx="470.9" cy="123.9" r="7.7" fill="none" stroke="#555" stroke-width="0.85"/>
<path d="M474.9,120.2V127.6" fill="none" stroke="#333" stroke-width="1.7"/>
<path d="M474.9,121.98L467.05,117.2M474.9,125.83L467.05,130.6" fill="none" stroke="#555" stroke-width="0.9"/>
<path d="M474.9,123.9H478.6" fill="none" stroke="#555" stroke-width="1.1"/>
<path d="M468.25,128.4L470.25,129L469.05,127.4Z" fill="#444" stroke="none"/>
<text x="461" y="124" font-size="3.6" text-anchor="end" fill="#1a1a1a">Q74</text>
<polyline points="478.6,124.1 981,124.1" fill="none" stroke="#5a5a5a" stroke-width="1.1"/>
<path d="M983.6,121.7L981,124.1L983.6,126.5M986,121.7L983.4,124.1L986,126.5" fill="none" stroke="#444" stroke-width="0.9"/>
<text x="974.5" y="121.5" font-size="3.6" text-anchor="end" fill="#1a1a1a">VIP_OUT_1</text>
<path d="M517.8,152.8L520.7,148.6L523.6,152.8Z" fill="none" stroke="#444" stroke-width="1"/>
<text x="520.7" y="147" font-size="3.6" text-anchor="middle" fill="#1a1a1a">SWB+</text>
<polyline points="520.7,152.8 520.7,164.2" fill="none" stroke="#5a5a5a" stroke-width="1.1"/>
<line x1="515.7" y1="164.4" x2="525.7" y2="164.4" stroke="#444" stroke-width="1.2"/>
<line x1="515.7" y1="167.3" x2="525.7" y2="167.3" stroke="#444" stroke-width="1.2"/>
<polyline points="520.7,167.3 520.7,178" fill="none" stroke="#5a5a5a" stroke-width="1.1"/>
<circle cx="520.7" cy="178" r="1.35" fill="#222"/>
<text x="527" y="163.5" font-size="3.4" text-anchor="start" fill="#1a1a1a">C175</text>
<text x="527" y="167.8" font-size="3.4" text-anchor="start" fill="#1a1a1a">470pF</text>
<path d="M397.9,194.2L400.8,190L403.7,194.2Z" fill="none" stroke="#444" stroke-width="1"/>
<text x="400.8" y="188.4" font-size="3.6" text-anchor="middle" fill="#1a1a1a">SWB+</text>
<polyline points="400.8,194.2 400.8,206.3" fill="none" stroke="#5a5a5a" stroke-width="1.1"/>
<line x1="395.8" y1="206.5" x2="405.8" y2="206.5" stroke="#444" stroke-width="1.2"/>
<line x1="395.8" y1="209.3" x2="405.8" y2="209.3" stroke="#444" stroke-width="1.2"/>
<polyline points="400.8,209.3 400.8,219.6" fill="none" stroke="#5a5a5a" stroke-width="1.1"/>
<circle cx="400.8" cy="219.6" r="1.35" fill="#222"/>
<text x="408.4" y="205" font-size="3.4" text-anchor="start" fill="#1a1a1a">C176</text>
<text x="408.4" y="209.1" font-size="3.4" text-anchor="start" fill="#1a1a1a">470pF</text>
<path d="M439.8,188.5L442.7,184.3L445.6,188.5Z" fill="none" stroke="#444" stroke-width="1"/>
<text x="442.7" y="182.7" font-size="3.6" text-anchor="middle" fill="#1a1a1a">SWB+</text>
<polyline points="442.7,188.5 442.7,195.6" fill="none" stroke="#5a5a5a" stroke-width="1.1"/>
<rect x="436.9" y="195.6" width="11.6" height="12.8" fill="none" stroke="#444" stroke-width="0.9"/>
<path d="M439.7,205L442.7,199L445.7,205Z" fill="none" stroke="#444" stroke-width="0.9"/>
<path d="M438.9,199.8L439.7,199H445.7L446.5,198.2" fill="none" stroke="#444" stroke-width="0.9"/>
<polyline points="442.7,195.6 442.7,208.4" fill="none" stroke="#444" stroke-width="0.8"/>
<polyline points="448.5,202 454.8,202 454.8,213 442.7,213" fill="none" stroke="#444" stroke-width="0.9"/>
<polyline points="442.7,208.4 442.7,223.5" fill="none" stroke="#5a5a5a" stroke-width="1.1"/>
<circle cx="442.7" cy="213" r="1.35" fill="#222"/>
<circle cx="442.7" cy="219.6" r="1.35" fill="#222"/>
<text x="438.8" y="193.8" font-size="3.4" text-anchor="end" fill="#1a1a1a">CR73</text>
<circle cx="447" cy="231.4" r="7.7" fill="none" stroke="#555" stroke-width="0.85"/>
<path d="M451,227.7V235.1" fill="none" stroke="#333" stroke-width="1.7"/>
<path d="M451,229.47L443.15,224.7M451,233.33L443.15,238.1" fill="none" stroke="#555" stroke-width="0.9"/>
<path d="M451,231.4H454.7" fill="none" stroke="#555" stroke-width="1.1"/>
<path d="M444.35,235.9L446.35,236.5L445.15,234.9Z" fill="#444" stroke="none"/>
<text x="437" y="233" font-size="3.4" text-anchor="end" fill="#1a1a1a">Q73</text>
<polyline points="442.7,239 442.7,246.5" fill="none" stroke="#5a5a5a" stroke-width="1.1"/>
<path d="M438.7,246.5H446.7M440,248H445.4M441.4,249.5H444" stroke="#444" stroke-width="0.9" fill="none"/>
<polyline points="454.7,231.6 465,231.6" fill="none" stroke="#5a5a5a" stroke-width="1.1"/>
<polyline points="465,231.6 466.29,229.2 468.88,234 471.46,229.2 474.04,234 476.62,229.2 479.21,234 480.5,231.6" fill="none" stroke="#444" stroke-width="1.1"/>
<polyline points="480.5,231.8 981,231.8" fill="none" stroke="#5a5a5a" stroke-width="1.1"/>
<path d="M983.6,229.4L981,231.8L983.6,234.2M986,229.4L983.4,231.8L986,234.2" fill="none" stroke="#444" stroke-width="0.9"/>
<text x="473.3" y="223" font-size="3.4" text-anchor="middle" fill="#1a1a1a">R73</text>
<text x="473.3" y="227.1" font-size="3.4" text-anchor="middle" fill="#1a1a1a">33K</text>
<text x="973.7" y="229.3" font-size="3.6" text-anchor="end" fill="#1a1a1a">VIP_OUT_3</text>
<path d="M559.6,135L562.5,130.8L565.4,135Z" fill="none" stroke="#444" stroke-width="1"/>
<text x="562.5" y="129.2" font-size="3.6" text-anchor="middle" fill="#1a1a1a">SWB+</text>
<polyline points="562.5,135 562.5,153.6" fill="none" stroke="#5a5a5a" stroke-width="1.1"/>
<circle cx="562.5" cy="141.6" r="1.35" fill="#222"/>
<rect x="556.5" y="153.6" width="12" height="12.6" fill="none" stroke="#444" stroke-width="0.9"/>
<path d="M559.5,162.9L562.5,156.9L565.5,162.9Z" fill="none" stroke="#444" stroke-width="0.9"/>
<path d="M558.7,157.7L559.5,156.9H565.5L566.3,156.1" fill="none" stroke="#444" stroke-width="0.9"/>
<polyline points="562.5,153.6 562.5,166.2" fill="none" stroke="#444" stroke-width="0.8"/>
<polyline points="568.5,160 574.5,160 574.5,172 562.5,172" fill="none" stroke="#444" stroke-width="0.9"/>
<polyline points="562.5,166.2 562.5,187.5" fill="none" stroke="#5a5a5a" stroke-width="1.1"/>
<circle cx="562.5" cy="172" r="1.35" fill="#222"/>
<circle cx="562.5" cy="178" r="1.35" fill="#222"/>
<circle cx="562.5" cy="184" r="1.35" fill="#222"/>
<text x="558.9" y="151.9" font-size="3.4" text-anchor="end" fill="#1a1a1a">CR72</text>
<polyline points="562.5,141.6 591.9,141.6" fill="none" stroke="#5a5a5a" stroke-width="1.1"/>
<polyline points="591.9,141.6 593.11,139.2 595.52,144 597.94,139.2 600.36,144 602.77,139.2 605.19,144 606.4,141.6" fill="none" stroke="#444" stroke-width="1.1"/>
<polyline points="606.4,141.6 646.6,141.6 646.6,146.5" fill="none" stroke="#5a5a5a" stroke-width="1.1"/>
<text x="599" y="133.5" font-size="3.4" text-anchor="middle" fill="#1a1a1a">R72</text>
<text x="599" y="138" font-size="3.4" text-anchor="middle" fill="#1a1a1a">47K</text>
<circle cx="650.4" cy="154" r="8" fill="none" stroke="#555" stroke-width="0.85"/>
<path d="M654.56,150.16V157.84" fill="none" stroke="#333" stroke-width="1.7"/>
<path d="M654.56,152L646.4,147.04M654.56,156L646.4,160.96" fill="none" stroke="#555" stroke-width="0.9"/>
<path d="M654.56,154H658.4" fill="none" stroke="#555" stroke-width="1.1"/>
<path d="M647.6,158.76L649.6,159.36L648.4,157.76Z" fill="#444" stroke="none"/>
<text x="641.5" y="154" font-size="3.6" text-anchor="end" fill="#1a1a1a">Q75</text>
<polyline points="658.4,153.8 981,153.8" fill="none" stroke="#5a5a5a" stroke-width="1.1"/>
<path d="M983.6,151.4L981,153.8L983.6,156.2M986,151.4L983.4,153.8L986,156.2" fill="none" stroke="#444" stroke-width="0.9"/>
<text x="973.7" y="151" font-size="3.6" text-anchor="end" fill="#1a1a1a">VIP_OUT_2</text>
<circle cx="566.7" cy="195.6" r="7.8" fill="none" stroke="#555" stroke-width="0.85"/>
<path d="M570.76,191.86V199.34" fill="none" stroke="#333" stroke-width="1.7"/>
<path d="M570.76,193.65L562.8,188.81M570.76,197.55L562.8,202.39" fill="none" stroke="#555" stroke-width="0.9"/>
<path d="M570.76,195.6H574.5" fill="none" stroke="#555" stroke-width="1.1"/>
<path d="M564,200.19L566,200.79L564.8,199.19Z" fill="#444" stroke="none"/>
<text x="555" y="197" font-size="3.4" text-anchor="end" fill="#1a1a1a">Q72</text>
<polyline points="562.5,203 562.5,211.5" fill="none" stroke="#5a5a5a" stroke-width="1.1"/>
<path d="M558.5,211.5H566.5M559.8,213H565.2M561.2,214.5H563.8" stroke="#444" stroke-width="0.9" fill="none"/>
<polyline points="562.5,184 591.9,184" fill="none" stroke="#5a5a5a" stroke-width="1.1"/>
<polyline points="591.9,184 593.11,181.6 595.52,186.4 597.94,181.6 600.36,186.4 602.77,181.6 605.19,186.4 606.4,184" fill="none" stroke="#444" stroke-width="1.1"/>
<polyline points="606.4,184 616.4,184 616.4,225.7 796.1,225.7 796.1,417.2" fill="none" stroke="#5a5a5a" stroke-width="1.1"/>
<text x="599" y="178.3" font-size="3.4" text-anchor="middle" fill="#1a1a1a">R?4?</text>
<polyline points="574.5,195.8 627.6,195.8" fill="none" stroke="#5a5a5a" stroke-width="1.1"/>
<polyline points="627.6,195.8 628.8,193.4 631.2,198.2 633.6,193.4 636,198.2 638.4,193.4 640.8,198.2 642,195.8" fill="none" stroke="#444" stroke-width="1.1"/>
<polyline points="642,195.8 646.6,195.8 646.6,162" fill="none" stroke="#5a5a5a" stroke-width="1.1"/>
<circle cx="598.2" cy="195.8" r="1.35" fill="#222"/>
<text x="634.8" y="187.5" font-size="3.4" text-anchor="middle" fill="#1a1a1a">R77</text>
<text x="634.8" y="192" font-size="3.4" text-anchor="middle" fill="#1a1a1a">47K</text>
<polyline points="598.2,195.8 598.2,201" fill="none" stroke="#5a5a5a" stroke-width="1.1"/>
<polyline points="598.2,201 600.6,202.12 595.8,204.38 600.6,206.62 595.8,208.88 600.6,211.12 595.8,213.38 598.2,214.5" fill="none" stroke="#444" stroke-width="1.1"/>
<polyline points="598.2,214.5 598.2,222.8" fill="none" stroke="#5a5a5a" stroke-width="1.1"/>
<path d="M594.2,222.8H602.2M595.5,224.3H600.9M596.9,225.8H599.5" stroke="#444" stroke-width="0.9" fill="none"/>
<text x="593" y="207" font-size="3.4" text-anchor="end" fill="#1a1a1a">R75</text>
<text x="593" y="211.5" font-size="3.4" text-anchor="end" fill="#1a1a1a">33K</text>
<path d="M685.6,170.2L688.5,166L691.4,170.2Z" fill="none" stroke="#444" stroke-width="1"/>
<text x="688.5" y="164.4" font-size="3.6" text-anchor="middle" fill="#1a1a1a">A+_IGN</text>
<polyline points="688.5,170.2 688.5,194.7" fill="none" stroke="#5a5a5a" stroke-width="1.1"/>
<circle cx="688.5" cy="184" r="1.35" fill="#222"/>
<line x1="683.5" y1="194.9" x2="693.5" y2="194.9" stroke="#444" stroke-width="1.2"/>
<line x1="683.5" y1="197.7" x2="693.5" y2="197.7" stroke="#444" stroke-width="1.2"/>
<polyline points="688.5,197.7 688.5,211.3" fill="none" stroke="#5a5a5a" stroke-width="1.1"/>
<path d="M684.5,211.3H692.5M685.8,212.8H691.2M687.2,214.3H689.8" stroke="#444" stroke-width="0.9" fill="none"/>
<text x="695" y="192.5" font-size="3.4" text-anchor="start" fill="#1a1a1a">C5</text>
<text x="695" y="197" font-size="3.4" text-anchor="start" fill="#1a1a1a">0.1uF</text>
<polyline points="688.5,184 706,184" fill="none" stroke="#5a5a5a" stroke-width="1.1"/>
<polyline points="706,184 707.2,181.6 709.6,186.4 712,181.6 714.4,186.4 716.8,181.6 719.2,186.4 720.4,184" fill="none" stroke="#444" stroke-width="1.1"/>
<polyline points="720.4,183.8 747.7,183.8" fill="none" stroke="#5a5a5a" stroke-width="1.1"/>
<text x="712.5" y="174.3" font-size="3.4" text-anchor="middle" fill="#1a1a1a">R3</text>
<text x="712.5" y="179.3" font-size="3.4" text-anchor="middle" fill="#1a1a1a">22K</text>
<circle cx="730" cy="184" r="1.35" fill="#222"/>
<circle cx="735.9" cy="183.8" r="1.35" fill="#222"/>
<circle cx="742" cy="183.8" r="1.35" fill="#222"/>
<polyline points="730,184 730,309.5" fill="none" stroke="#5a5a5a" stroke-width="1.1"/>
<polyline points="735.9,183.8 735.9,166.2 764.2,166.2" fill="none" stroke="#5a5a5a" stroke-width="1.1"/>
<line x1="764.2" y1="161.7" x2="764.2" y2="170.7" stroke="#444" stroke-width="1.2"/>
<line x1="767" y1="161.7" x2="767" y2="170.7" stroke="#444" stroke-width="1.2"/>
<polyline points="767,166.2 796.1,166.2 796.1,183.6" fill="none" stroke="#5a5a5a" stroke-width="1.1"/>
<text x="773" y="159" font-size="3.4" text-anchor="start" fill="#1a1a1a">C8</text>
<text x="773" y="163.5" font-size="3.4" text-anchor="start" fill="#1a1a1a">.01uF</text>
<polyline points="742,183.7 742,171.6 754.5,171.6 754.5,177.8" fill="none" stroke="#444" stroke-width="0.9"/>
<rect x="747.7" y="177.8" width="12.6" height="11.6" fill="none" stroke="#444" stroke-width="0.9"/>
<path d="M751,180.6L757,183.6L751,186.6Z M757,180.6V186.6" fill="none" stroke="#444" stroke-width="0.9"/>
<polyline points="747.7,183.6 760.3,183.6" fill="none" stroke="#444" stroke-width="0.8"/>
<text x="754" y="193.5" font-size="3.4" text-anchor="middle" fill="#1a1a1a">CR52</text>
<polyline points="760.3,183.6 777.7,183.6" fill="none" stroke="#5a5a5a" stroke-width="1.1"/>
<circle cx="766.1" cy="183.6" r="1.35" fill="#222"/>
<circle cx="771.9" cy="183.6" r="1.35" fill="#222"/>
<polyline points="771.9,183.6 771.9,171.6 784.5,171.6 784.5,177.8" fill="none" stroke="#444" stroke-width="0.9"/>
<rect x="777.7" y="177.8" width="12.6" height="11.6" fill="none" stroke="#444" stroke-width="0.9"/>
<path d="M781,180.6L787,183.6L781,186.6Z M787,180.6V186.6" fill="none" stroke="#444" stroke-width="0.9"/>
<polyline points="777.7,183.6 790.3,183.6" fill="none" stroke="#444" stroke-width="0.8"/>
<text x="784" y="193.5" font-size="3.4" text-anchor="middle" fill="#1a1a1a">CR53</text>
<polyline points="790.3,183.6 807.7,183.6" fill="none" stroke="#5a5a5a" stroke-width="1.1"/>
<circle cx="796.1" cy="183.6" r="1.35" fill="#222"/>
<circle cx="801.9" cy="183.6" r="1.35" fill="#222"/>
<polyline points="801.9,183.6 801.9,171.6 814.4,171.6 814.4,177.8" fill="none" stroke="#444" stroke-width="0.9"/>
<rect x="807.7" y="177.8" width="12.5" height="11.6" fill="none" stroke="#444" stroke-width="0.9"/>
<path d="M810.95,180.6L816.95,183.6L810.95,186.6Z M816.95,180.6V186.6" fill="none" stroke="#444" stroke-width="0.9"/>
<polyline points="807.7,183.6 820.2,183.6" fill="none" stroke="#444" stroke-width="0.8"/>
<text x="814" y="193.5" font-size="3.4" text-anchor="middle" fill="#1a1a1a">CR54</text>
<polyline points="820.2,183.6 836.7,183.6" fill="none" stroke="#5a5a5a" stroke-width="1.1"/>
<circle cx="826" cy="183.6" r="1.35" fill="#222"/>
<polyline points="766.1,183.6 766.1,199.8" fill="none" stroke="#5a5a5a" stroke-width="1.1"/>
<line x1="761.1" y1="200" x2="771.1" y2="200" stroke="#444" stroke-width="1.2"/>
<line x1="761.1" y1="203.3" x2="771.1" y2="203.3" stroke="#444" stroke-width="1.2"/>
<polyline points="766.1,203.3 766.1,217" fill="none" stroke="#5a5a5a" stroke-width="1.1"/>
<path d="M762.1,217H770.1M763.4,218.5H768.8M764.8,220H767.4" stroke="#444" stroke-width="0.9" fill="none"/>
<text x="772" y="198.5" font-size="3.4" text-anchor="start" fill="#1a1a1a">C3</text>
<text x="772" y="203" font-size="3.4" text-anchor="start" fill="#1a1a1a">.01uF</text>
<polyline points="826,183.6 826,199.8" fill="none" stroke="#5a5a5a" stroke-width="1.1"/>
<line x1="821" y1="200" x2="831" y2="200" stroke="#444" stroke-width="1.2"/>
<line x1="821" y1="203.3" x2="831" y2="203.3" stroke="#444" stroke-width="1.2"/>
<polyline points="826,203.3 826,217" fill="none" stroke="#5a5a5a" stroke-width="1.1"/>
<path d="M822,217H830M823.3,218.5H828.7M824.7,220H827.3" stroke="#444" stroke-width="0.9" fill="none"/>
<text x="833" y="198.5" font-size="3.4" text-anchor="start" fill="#1a1a1a">C4</text>
<text x="833" y="203" font-size="3.4" text-anchor="start" fill="#1a1a1a">.01uF</text>
<polyline points="826,183.6 826,160 933.1,160 933.1,166.5" fill="none" stroke="#5a5a5a" stroke-width="1.1"/>
<circle cx="903.8" cy="160" r="1.35" fill="#222"/>
<path d="M930.1,174.5H936.1L933.1,168.5Z M929.6,167.5L930.5,168.5H935.7L936.6,169.5" fill="none" stroke="#444" stroke-width="0.9"/>
<polyline points="933.1,168.5 933.1,187.5" fill="none" stroke="#5a5a5a" stroke-width="1.1"/>
<path d="M929.1,187.5H937.1M930.4,189H935.8M931.8,190.5H934.4" stroke="#444" stroke-width="0.9" fill="none"/>
<text x="940" y="168.5" font-size="3.4" text-anchor="start" fill="#1a1a1a">VR11</text>
<text x="940" y="173" font-size="3.4" text-anchor="start" fill="#1a1a1a">36V</text>
<polyline points="836.7,183.6 837.98,181.2 840.53,186 843.08,181.2 845.62,186 848.17,181.2 850.73,186 852,183.6" fill="none" stroke="#444" stroke-width="1.1"/>
<polyline points="852,183.6 856.6,183.6 856.6,213.6 933,213.6" fill="none" stroke="#5a5a5a" stroke-width="1.1"/>
<text x="842" y="174.5" font-size="3.4" text-anchor="middle" fill="#1a1a1a">R4</text>
<text x="842" y="179.4" font-size="3.4" text-anchor="middle" fill="#1a1a1a">1MEG</text>
<polyline points="933,213.6 934.14,211.2 936.42,216 938.71,211.2 940.99,216 943.28,211.2 945.56,216 946.7,213.6" fill="none" stroke="#444" stroke-width="1.1"/>
<polyline points="946.7,213.6 951.9,213.6 951.9,200.7" fill="none" stroke="#5a5a5a" stroke-width="1.1"/>
<path d="M949,200.7L951.9,196.5L954.8,200.7Z" fill="none" stroke="#444" stroke-width="1"/>
<text x="951.9" y="194.9" font-size="3.6" text-anchor="middle" fill="#1a1a1a">A+_IGN</text>
<text x="939.4" y="209.7" font-size="3.4" text-anchor="middle" fill="#1a1a1a">R?7</text>
<circle cx="879.6" cy="213.6" r="1.35" fill="#222"/>
<circle cx="921.7" cy="213.6" r="1.35" fill="#222"/>
<polyline points="921.7,213.6 921.7,200.7" fill="none" stroke="#5a5a5a" stroke-width="1.1"/>
<path d="M918.8,200.7L921.7,196.5L924.6,200.7Z" fill="none" stroke="#444" stroke-width="1"/>
<text x="921.7" y="194.9" font-size="3.6" text-anchor="middle" fill="#1a1a1a">SWB+</text>
<circle cx="881.2" cy="196" r="13.6" fill="none" stroke="#555" stroke-width="0.9"/>
<polyline points="879.8,171 879.8,213.6" fill="none" stroke="#5a5a5a" stroke-width="1.1"/>
<path d="M876.9,171L879.8,166.8L882.7,171Z" fill="none" stroke="#444" stroke-width="1"/>
<text x="879.8" y="165.2" font-size="3.6" text-anchor="middle" fill="#1a1a1a">A+</text>
<path d="M879.8,190.6H888.6M879.8,195.5H888.6M879.8,200.4H888.6M888.6,189.3V191.9M888.6,194.2V196.8M888.6,199.1V201.7" fill="none" stroke="#444" stroke-width="0.9"/>
<path d="M892.8,189.5V202.3" fill="none" stroke="#444" stroke-width="1.2"/>
<polyline points="892.8,201.8 903.8,201.8 903.8,160" fill="none" stroke="#5a5a5a" stroke-width="1.1"/>
<path d="M882,195.5L885,193.8V197.2Z" fill="#444"/>
<path d="M879.8,188.5H873.9V203.6H879.8 M870.9,195.5H876.9L873.9,191.2Z M870.9,191.2H876.9" fill="none" stroke="#444" stroke-width="0.9"/>
<circle cx="879.8" cy="188.5" r="1.1" fill="#222"/>
<circle cx="879.8" cy="200.4" r="1.1" fill="#222"/>
<circle cx="879.8" cy="203.6" r="1.1" fill="#222"/>
<text x="882.9" y="180.8" font-size="3.4" text-anchor="start" fill="#1a1a1a">D</text>
<text x="899" y="200.5" font-size="3.4" text-anchor="start" fill="#1a1a1a">G</text>
<text x="875.5" y="212.5" font-size="3.4" text-anchor="start" fill="#1a1a1a">S</text>
<text x="865.2" y="195.6" font-size="3.6" text-anchor="end" fill="#1a1a1a">Q51</text>
<text x="690" y="97" font-size="3.6" text-anchor="start" fill="#1a1a1a" textLength="13" lengthAdjust="spacingAndGlyphs">NOTES:</text>
<text x="690" y="106" font-size="3.6" text-anchor="start" fill="#1a1a1a" textLength="178" lengthAdjust="spacingAndGlyphs">1. ALL RESISTANCE IS IN OHMS. ALL CAPACITANCE IN PICO-FARADS UNLESS NOTED OTHERWISE.</text>
<text x="690" y="111.5" font-size="3.6" text-anchor="start" fill="#1a1a1a" textLength="177.5" lengthAdjust="spacingAndGlyphs">2. PART USAGE MAY VARY WITH APPLICATION.  REFER TO PARTS LIST FOR USAGE INFORMATION.</text>
<polyline points="353.2,279.5 353.2,291.7" fill="none" stroke="#5a5a5a" stroke-width="1.1"/>
<circle cx="353.2" cy="279.5" r="1.35" fill="#222"/>
<rect x="346.8" y="291.7" width="12.8" height="11.8" fill="none" stroke="#444" stroke-width="0.9"/>
<path d="M350.2,300.6L353.2,294.6L356.2,300.6Z" fill="none" stroke="#444" stroke-width="0.9"/>
<path d="M349.4,295.4L350.2,294.6H356.2L357,293.8" fill="none" stroke="#444" stroke-width="0.9"/>
<polyline points="353.2,291.7 353.2,303.5" fill="none" stroke="#444" stroke-width="0.8"/>
<polyline points="353.2,303.5 353.2,312.8" fill="none" stroke="#5a5a5a" stroke-width="1.1"/>
<circle cx="353.2" cy="309.5" r="1.35" fill="#222"/>
<polyline points="346.8,297.6 340.7,297.6 340.7,309.5 353.2,309.5" fill="none" stroke="#444" stroke-width="0.8"/>
<path d="M349.2,312.8H357.2M350.5,314.3H355.9M351.9,315.8H354.5" stroke="#444" stroke-width="0.9" fill="none"/>
<text x="362.2" y="297.6" font-size="3.4" text-anchor="start" fill="#1a1a1a">VR8</text>
<text x="362.2" y="301.9" font-size="3.4" text-anchor="start" fill="#1a1a1a">12V</text>
<polyline points="430.8,267.4 430.8,291.7" fill="none" stroke="#5a5a5a" stroke-width="1.1"/>
<circle cx="430.8" cy="267.4" r="1.35" fill="#222"/>
<rect x="424.4" y="291.7" width="12.8" height="11.8" fill="none" stroke="#444" stroke-width="0.9"/>
<path d="M427.8,300.6L430.8,294.6L433.8,300.6Z" fill="none" stroke="#444" stroke-width="0.9"/>
<path d="M427,295.4L427.8,294.6H433.8L434.6,293.8" fill="none" stroke="#444" stroke-width="0.9"/>
<polyline points="430.8,291.7 430.8,303.5" fill="none" stroke="#444" stroke-width="0.8"/>
<polyline points="430.8,303.5 430.8,312.8" fill="none" stroke="#5a5a5a" stroke-width="1.1"/>
<circle cx="430.8" cy="309.5" r="1.35" fill="#222"/>
<polyline points="424.4,297.6 418.3,297.6 418.3,309.5 430.8,309.5" fill="none" stroke="#444" stroke-width="0.8"/>
<path d="M426.8,312.8H434.8M428.1,314.3H433.5M429.5,315.8H432.1" stroke="#444" stroke-width="0.9" fill="none"/>
<text x="439.8" y="297.6" font-size="3.4" text-anchor="start" fill="#1a1a1a">VR9</text>
<text x="439.8" y="301.9" font-size="3.4" text-anchor="start" fill="#1a1a1a">12V</text>
<polyline points="514.9,255.3 514.9,291.7" fill="none" stroke="#5a5a5a" stroke-width="1.1"/>
<circle cx="514.9" cy="255.3" r="1.35" fill="#222"/>
<rect x="508.5" y="291.7" width="12.8" height="11.8" fill="none" stroke="#444" stroke-width="0.9"/>
<path d="M511.9,300.6L514.9,294.6L517.9,300.6Z" fill="none" stroke="#444" stroke-width="0.9"/>
<path d="M511.1,295.4L511.9,294.6H517.9L518.7,293.8" fill="none" stroke="#444" stroke-width="0.9"/>
<polyline points="514.9,291.7 514.9,303.5" fill="none" stroke="#444" stroke-width="0.8"/>
<polyline points="514.9,303.5 514.9,312.8" fill="none" stroke="#5a5a5a" stroke-width="1.1"/>
<circle cx="514.9" cy="309.5" r="1.35" fill="#222"/>
<polyline points="508.5,297.6 502.4,297.6 502.4,309.5 514.9,309.5" fill="none" stroke="#444" stroke-width="0.8"/>
<path d="M510.9,312.8H518.9M512.2,314.3H517.6M513.6,315.8H516.2" stroke="#444" stroke-width="0.9" fill="none"/>
<text x="523.9" y="297.6" font-size="3.4" text-anchor="start" fill="#1a1a1a">VR10</text>
<text x="523.9" y="301.9" font-size="3.4" text-anchor="start" fill="#1a1a1a">12V</text>
<polyline points="365,333.6 365,381" fill="none" stroke="#5a5a5a" stroke-width="1.1"/>
<circle cx="365" cy="333.6" r="1.35" fill="#222"/>
<rect x="358.6" y="381" width="12.8" height="12.6" fill="none" stroke="#444" stroke-width="0.9"/>
<path d="M362,390.3L365,384.3L368,390.3Z" fill="none" stroke="#444" stroke-width="0.9"/>
<path d="M361.2,385.1L362,384.3H368L368.8,383.5" fill="none" stroke="#444" stroke-width="0.9"/>
<polyline points="365,381 365,393.6" fill="none" stroke="#444" stroke-width="0.8"/>
<polyline points="365,393.6 365,403.5" fill="none" stroke="#5a5a5a" stroke-width="1.1"/>
<circle cx="365" cy="399.4" r="1.35" fill="#222"/>
<polyline points="358.6,387.3 352.5,387.3 352.5,399.4 365,399.4" fill="none" stroke="#444" stroke-width="0.8"/>
<path d="M361,403.5H369M362.3,405H367.7M363.7,406.5H366.3" stroke="#444" stroke-width="0.9" fill="none"/>
<text x="374" y="387.3" font-size="3.4" text-anchor="start" fill="#1a1a1a">VR7</text>
<text x="374" y="391.6" font-size="3.4" text-anchor="start" fill="#1a1a1a">12V</text>
<polyline points="412.8,339.6 412.8,381" fill="none" stroke="#5a5a5a" stroke-width="1.1"/>
<circle cx="412.8" cy="339.6" r="1.35" fill="#222"/>
<rect x="406.4" y="381" width="12.8" height="12.6" fill="none" stroke="#444" stroke-width="0.9"/>
<path d="M409.8,390.3L412.8,384.3L415.8,390.3Z" fill="none" stroke="#444" stroke-width="0.9"/>
<path d="M409,385.1L409.8,384.3H415.8L416.6,383.5" fill="none" stroke="#444" stroke-width="0.9"/>
<polyline points="412.8,381 412.8,393.6" fill="none" stroke="#444" stroke-width="0.8"/>
<polyline points="412.8,393.6 412.8,403.5" fill="none" stroke="#5a5a5a" stroke-width="1.1"/>
<circle cx="412.8" cy="399.4" r="1.35" fill="#222"/>
<polyline points="406.4,387.3 400.3,387.3 400.3,399.4 412.8,399.4" fill="none" stroke="#444" stroke-width="0.8"/>
<path d="M408.8,403.5H416.8M410.1,405H415.5M411.5,406.5H414.1" stroke="#444" stroke-width="0.9" fill="none"/>
<text x="421.8" y="387.3" font-size="3.4" text-anchor="start" fill="#1a1a1a">VR1</text>
<text x="421.8" y="391.6" font-size="3.4" text-anchor="start" fill="#1a1a1a">12V</text>
<polyline points="460.7,345.4 460.7,381" fill="none" stroke="#5a5a5a" stroke-width="1.1"/>
<circle cx="460.7" cy="345.4" r="1.35" fill="#222"/>
<rect x="454.3" y="381" width="12.8" height="12.6" fill="none" stroke="#444" stroke-width="0.9"/>
<path d="M457.7,390.3L460.7,384.3L463.7,390.3Z" fill="none" stroke="#444" stroke-width="0.9"/>
<path d="M456.9,385.1L457.7,384.3H463.7L464.5,383.5" fill="none" stroke="#444" stroke-width="0.9"/>
<polyline points="460.7,381 460.7,393.6" fill="none" stroke="#444" stroke-width="0.8"/>
<polyline points="460.7,393.6 460.7,403.5" fill="none" stroke="#5a5a5a" stroke-width="1.1"/>
<circle cx="460.7" cy="399.4" r="1.35" fill="#222"/>
<polyline points="454.3,387.3 448.2,387.3 448.2,399.4 460.7,399.4" fill="none" stroke="#444" stroke-width="0.8"/>
<path d="M456.7,403.5H464.7M458,405H463.4M459.4,406.5H462" stroke="#444" stroke-width="0.9" fill="none"/>
<text x="469.7" y="387.3" font-size="3.4" text-anchor="start" fill="#1a1a1a">VR2</text>
<text x="469.7" y="391.6" font-size="3.4" text-anchor="start" fill="#1a1a1a">12V</text>
<polyline points="514.9,363.3 514.9,386.8" fill="none" stroke="#5a5a5a" stroke-width="1.1"/>
<circle cx="514.9" cy="363.3" r="1.35" fill="#222"/>
<rect x="508.5" y="386.8" width="12.8" height="12.6" fill="none" stroke="#444" stroke-width="0.9"/>
<path d="M511.9,396.1L514.9,390.1L517.9,396.1Z" fill="none" stroke="#444" stroke-width="0.9"/>
<path d="M511.1,390.9L511.9,390.1H517.9L518.7,389.3" fill="none" stroke="#444" stroke-width="0.9"/>
<polyline points="514.9,386.8 514.9,399.4" fill="none" stroke="#444" stroke-width="0.8"/>
<polyline points="514.9,399.4 514.9,410" fill="none" stroke="#5a5a5a" stroke-width="1.1"/>
<circle cx="514.9" cy="405" r="1.35" fill="#222"/>
<polyline points="508.5,393 502.4,393 502.4,405 514.9,405" fill="none" stroke="#444" stroke-width="0.8"/>
<path d="M510.9,410H518.9M512.2,411.5H517.6M513.6,413H516.2" stroke="#444" stroke-width="0.9" fill="none"/>
<text x="499" y="392" font-size="3.4" text-anchor="end" fill="#1a1a1a">VR5</text>
<text x="499" y="396.5" font-size="3.4" text-anchor="end" fill="#1a1a1a">12V</text>
<polyline points="323.6,416.8 347,416.8" fill="none" stroke="#5a5a5a" stroke-width="1.1"/>
<circle cx="335.1" cy="416.8" r="1.35" fill="#222"/>
<polyline points="335.1,416.8 335.1,398.2" fill="none" stroke="#5a5a5a" stroke-width="1.1"/>
<path d="M332.2,398.2L335.1,394L338,398.2Z" fill="none" stroke="#444" stroke-width="1"/>
<text x="335.1" y="392.4" font-size="3.6" text-anchor="middle" fill="#1a1a1a">+5V</text>
<polyline points="347,416.8 347,427.1" fill="none" stroke="#5a5a5a" stroke-width="1.1"/>
<line x1="342" y1="427.3" x2="352" y2="427.3" stroke="#444" stroke-width="1.2"/>
<line x1="342" y1="430.6" x2="352" y2="430.6" stroke="#444" stroke-width="1.2"/>
<polyline points="347,430.6 347,445" fill="none" stroke="#5a5a5a" stroke-width="1.1"/>
<path d="M343,445H351M344.3,446.5H349.7M345.7,448H348.3" stroke="#444" stroke-width="0.9" fill="none"/>
<text x="355" y="425.5" font-size="3.4" text-anchor="start" fill="#1a1a1a">C58</text>
<text x="355" y="430" font-size="3.4" text-anchor="start" fill="#1a1a1a">.01uF</text>
<path d="M391.9,415.7L394.8,411.5L397.7,415.7Z" fill="none" stroke="#444" stroke-width="1"/>
<text x="394.8" y="409.9" font-size="3.6" text-anchor="middle" fill="#1a1a1a">A+</text>
<polyline points="394.8,415.7 394.8,435 406.4,435" fill="none" stroke="#5a5a5a" stroke-width="1.1"/>
<circle cx="400.8" cy="435" r="1.35" fill="#222"/>
<rect x="406.4" y="429.2" width="12.6" height="12" fill="none" stroke="#444" stroke-width="0.9"/>
<path d="M409.7,432.2L415.7,435.2L409.7,438.2Z M415.7,432.2V438.2" fill="none" stroke="#444" stroke-width="0.9"/>
<polyline points="406.4,435.2 419,435.2" fill="none" stroke="#444" stroke-width="0.8"/>
<polyline points="400.8,435 400.8,447.2 413.2,447.2 413.2,441.2" fill="none" stroke="#444" stroke-width="0.9"/>
<text x="412.7" y="426.5" font-size="3.4" text-anchor="middle" fill="#1a1a1a">CR55</text>
<polyline points="419,435 610.5,435" fill="none" stroke="#5a5a5a" stroke-width="1.1"/>
<polyline points="610.5,435 610.5,261.5 688.2,261.5 688.2,279.4" fill="none" stroke="#5a5a5a" stroke-width="1.1"/>
<circle cx="436.6" cy="435" r="1.35" fill="#222"/>
<circle cx="449.1" cy="435" r="1.35" fill="#222"/>
<circle cx="478.9" cy="435" r="1.35" fill="#222"/>
<circle cx="496.5" cy="435" r="1.35" fill="#222"/>
<polyline points="436.6,435 436.6,439.4" fill="none" stroke="#5a5a5a" stroke-width="1.1"/>
<polyline points="436.6,439.4 439,440.62 434.2,443.05 439,445.48 434.2,447.92 439,450.35 434.2,452.78 436.6,454" fill="none" stroke="#444" stroke-width="1.1"/>
<polyline points="436.6,454 436.6,471" fill="none" stroke="#5a5a5a" stroke-width="1.1"/>
<text x="431.5" y="446" font-size="3.4" text-anchor="end" fill="#1a1a1a">R6</text>
<text x="431.5" y="450.5" font-size="3.4" text-anchor="end" fill="#1a1a1a">10K</text>
<polyline points="449.1,435 449.1,451.4" fill="none" stroke="#5a5a5a" stroke-width="1.1"/>
<line x1="444.1" y1="451.6" x2="454.1" y2="451.6" stroke="#444" stroke-width="1.2"/>
<line x1="444.1" y1="454.8" x2="454.1" y2="454.8" stroke="#444" stroke-width="1.2"/>
<polyline points="449.1,454.8 449.1,471" fill="none" stroke="#5a5a5a" stroke-width="1.1"/>
<text x="456.4" y="449.6" font-size="3.4" text-anchor="start" fill="#1a1a1a">C56</text>
<text x="456.4" y="454.4" font-size="3.4" text-anchor="start" fill="#1a1a1a">470pF</text>
<text x="395.5" y="452" font-size="3.4" text-anchor="middle" fill="#1a1a1a">PWR</text>
<text x="395.5" y="456.2" font-size="3.4" text-anchor="middle" fill="#1a1a1a">SWITCH</text>
<path d="M388.7,465H401.2M395,465V460" fill="none" stroke="#444" stroke-width="0.9"/>
<circle cx="388.8" cy="471" r="0.8" fill="#333"/><circle cx="401.2" cy="471" r="0.8" fill="#333"/>
<polyline points="388.8,471 382.9,471 382.9,486" fill="none" stroke="#5a5a5a" stroke-width="1.1"/>
<path d="M378.9,486H386.9M380.2,487.5H385.6M381.6,489H384.2" stroke="#444" stroke-width="0.9" fill="none"/>
<polyline points="401.2,471 417.6,471" fill="none" stroke="#5a5a5a" stroke-width="1.1"/>
<polyline points="417.6,471 418.8,468.6 421.2,473.4 423.6,468.6 426,473.4 428.4,468.6 430.8,473.4 432,471" fill="none" stroke="#444" stroke-width="1.1"/>
<polyline points="432,471 467,471" fill="none" stroke="#5a5a5a" stroke-width="1.1"/>
<text x="425" y="462" font-size="3.4" text-anchor="middle" fill="#1a1a1a">R7</text>
<text x="425" y="466.5" font-size="3.4" text-anchor="middle" fill="#1a1a1a">10K</text>
<circle cx="436.6" cy="471" r="1.35" fill="#222"/>
<circle cx="449.1" cy="471" r="1.35" fill="#222"/>
<circle cx="474.6" cy="471.3" r="8" fill="none" stroke="#555" stroke-width="0.85"/>
<path d="M470.44,467.46V475.14" fill="none" stroke="#333" stroke-width="1.7"/>
<path d="M470.44,469.3L478.6,464.34M470.44,473.3L478.6,478.26" fill="none" stroke="#555" stroke-width="0.9"/>
<path d="M470.44,471.3H466.6" fill="none" stroke="#555" stroke-width="1.1"/>
<path d="M477.4,476.06L475.4,476.66L476.6,475.06Z" fill="#444" stroke="none"/>
<polyline points="478.9,435 478.9,463.5" fill="none" stroke="#5a5a5a" stroke-width="1.1"/>
<text x="488" y="473.5" font-size="3.4" text-anchor="start" fill="#1a1a1a">Q52</text>
<polyline points="478.9,479 478.9,483 616.2,483 616.2,393.3 652.4,393.3" fill="none" stroke="#5a5a5a" stroke-width="1.1"/>
<circle cx="508.5" cy="483" r="1.35" fill="#222"/>
<circle cx="532.9" cy="483" r="1.35" fill="#222"/>
<polyline points="496.5,435 496.5,445" fill="none" stroke="#5a5a5a" stroke-width="1.1"/>
<line x1="491.5" y1="445.2" x2="501.5" y2="445.2" stroke="#444" stroke-width="1.2"/>
<line x1="491.5" y1="448.5" x2="501.5" y2="448.5" stroke="#444" stroke-width="1.2"/>
<polyline points="496.5,448.5 496.5,462.5" fill="none" stroke="#5a5a5a" stroke-width="1.1"/>
<path d="M492.5,462.5H500.5M493.8,464H499.2M495.2,465.5H497.8" stroke="#444" stroke-width="0.9" fill="none"/>
<text x="504" y="444" font-size="3.4" text-anchor="start" fill="#1a1a1a">C48</text>
<text x="504" y="448.5" font-size="3.4" text-anchor="start" fill="#1a1a1a">0.1uF</text>
<polyline points="508.5,483 508.5,492.4" fill="none" stroke="#5a5a5a" stroke-width="1.1"/>
<line x1="503.5" y1="492.6" x2="513.5" y2="492.6" stroke="#444" stroke-width="1.2"/>
<line x1="503.5" y1="495.9" x2="513.5" y2="495.9" stroke="#444" stroke-width="1.2"/>
<polyline points="508.5,495.9 508.5,514.5" fill="none" stroke="#5a5a5a" stroke-width="1.1"/>
<path d="M504.5,514.5H512.5M505.8,516H511.2M507.2,517.5H509.8" stroke="#444" stroke-width="0.9" fill="none"/>
<text x="501" y="490.5" font-size="3.4" text-anchor="end" fill="#1a1a1a">C43</text>
<text x="501" y="495" font-size="3.4" text-anchor="end" fill="#1a1a1a">0.1uF</text>
<polyline points="532.9,483 532.9,487.7" fill="none" stroke="#5a5a5a" stroke-width="1.1"/>
<polyline points="532.9,487.7 535.3,488.89 530.5,491.27 535.3,493.66 530.5,496.04 535.3,498.43 530.5,500.81 532.9,502" fill="none" stroke="#444" stroke-width="1.1"/>
<polyline points="532.9,502 532.9,514.5" fill="none" stroke="#5a5a5a" stroke-width="1.1"/>
<path d="M528.9,514.5H536.9M530.2,516H535.6M531.6,517.5H534.2" stroke="#444" stroke-width="0.9" fill="none"/>
<text x="527" y="494" font-size="3.4" text-anchor="end" fill="#1a1a1a">R8</text>
<text x="527" y="498.5" font-size="3.4" text-anchor="end" fill="#1a1a1a">1K</text>
<polyline points="352.9,566.6 352.9,573" fill="none" stroke="#5a5a5a" stroke-width="1.1"/>
<circle cx="352.9" cy="566.6" r="1.35" fill="#222"/>
<rect x="346.5" y="573" width="12.8" height="12" fill="none" stroke="#444" stroke-width="0.9"/>
<path d="M349.9,582L352.9,576L355.9,582Z" fill="none" stroke="#444" stroke-width="0.9"/>
<path d="M349.1,576.8L349.9,576H355.9L356.7,575.2" fill="none" stroke="#444" stroke-width="0.9"/>
<polyline points="352.9,573 352.9,585" fill="none" stroke="#444" stroke-width="0.8"/>
<polyline points="352.9,585 352.9,594" fill="none" stroke="#5a5a5a" stroke-width="1.1"/>
<circle cx="352.9" cy="590.3" r="1.35" fill="#222"/>
<polyline points="346.5,579 340.4,579 340.4,590.3 352.9,590.3" fill="none" stroke="#444" stroke-width="0.8"/>
<path d="M348.9,594H356.9M350.2,595.5H355.6M351.6,597H354.2" stroke="#444" stroke-width="0.9" fill="none"/>
<text x="361.9" y="579" font-size="3.4" text-anchor="start" fill="#1a1a1a">VR20</text>
<text x="361.9" y="583.3" font-size="3.4" text-anchor="start" fill="#1a1a1a">12V</text>
<polyline points="424.9,578.5 424.9,584.4" fill="none" stroke="#5a5a5a" stroke-width="1.1"/>
<circle cx="424.9" cy="578.5" r="1.35" fill="#222"/>
<rect x="418.5" y="584.4" width="12.8" height="11.9" fill="none" stroke="#444" stroke-width="0.9"/>
<path d="M421.9,593.35L424.9,587.35L427.9,593.35Z" fill="none" stroke="#444" stroke-width="0.9"/>
<path d="M421.1,588.15L421.9,587.35H427.9L428.7,586.55" fill="none" stroke="#444" stroke-width="0.9"/>
<polyline points="424.9,584.4 424.9,596.3" fill="none" stroke="#444" stroke-width="0.8"/>
<polyline points="424.9,596.3 424.9,607" fill="none" stroke="#5a5a5a" stroke-width="1.1"/>
<circle cx="424.9" cy="602.7" r="1.35" fill="#222"/>
<polyline points="418.5,590.35 412.4,590.35 412.4,602.7 424.9,602.7" fill="none" stroke="#444" stroke-width="0.8"/>
<path d="M420.9,607H428.9M422.2,608.5H427.6M423.6,610H426.2" stroke="#444" stroke-width="0.9" fill="none"/>
<text x="433.9" y="590.35" font-size="3.4" text-anchor="start" fill="#1a1a1a">VR21</text>
<text x="433.9" y="594.65" font-size="3.4" text-anchor="start" fill="#1a1a1a">12V</text>
<polyline points="502.8,584.4 502.8,590.3" fill="none" stroke="#5a5a5a" stroke-width="1.1"/>
<circle cx="502.8" cy="584.4" r="1.35" fill="#222"/>
<rect x="496.4" y="590.3" width="12.8" height="12" fill="none" stroke="#444" stroke-width="0.9"/>
<path d="M499.8,599.3L502.8,593.3L505.8,599.3Z" fill="none" stroke="#444" stroke-width="0.9"/>
<path d="M499,594.1L499.8,593.3H505.8L506.6,592.5" fill="none" stroke="#444" stroke-width="0.9"/>
<polyline points="502.8,590.3 502.8,602.3" fill="none" stroke="#444" stroke-width="0.8"/>
<polyline points="502.8,602.3 502.8,613" fill="none" stroke="#5a5a5a" stroke-width="1.1"/>
<circle cx="502.8" cy="608.7" r="1.35" fill="#222"/>
<polyline points="496.4,596.3 490.3,596.3 490.3,608.7 502.8,608.7" fill="none" stroke="#444" stroke-width="0.8"/>
<path d="M498.8,613H506.8M500.1,614.5H505.5M501.5,616H504.1" stroke="#444" stroke-width="0.9" fill="none"/>
<text x="511.8" y="596.3" font-size="3.4" text-anchor="start" fill="#1a1a1a">VR22</text>
<text x="511.8" y="600.6" font-size="3.4" text-anchor="start" fill="#1a1a1a">12V</text>
<rect x="652.4" y="279.4" width="60.2" height="137.4" fill="none" stroke="#222" stroke-width="1.5"/>
<text x="674.5" y="391.3" font-size="3.6" text-anchor="middle" fill="#1a1a1a">U8</text>
<text x="674.5" y="395.8" font-size="3.6" text-anchor="middle" fill="#1a1a1a">SC74457F</text>
<text x="674.5" y="400.3" font-size="3.6" text-anchor="middle" fill="#1a1a1a">SERIAL I/O</text>
<text x="651" y="303" font-size="3.3" text-anchor="end" fill="#1a1a1a">40</text>
<text x="655" y="304.9" font-size="3.7" text-anchor="start" fill="#1a1a1a">WDT_T_CAP</text>
<text x="651" y="308.9" font-size="3.3" text-anchor="end" fill="#1a1a1a">25</text>
<text x="655" y="310.8" font-size="3.7" text-anchor="start" fill="#1a1a1a">VIP_IN_1</text>
<text x="651" y="314.7" font-size="3.3" text-anchor="end" fill="#1a1a1a">22</text>
<text x="655" y="316.6" font-size="3.7" text-anchor="start" fill="#1a1a1a">VIP_IN_2</text>
<text x="651" y="320.6" font-size="3.3" text-anchor="end" fill="#1a1a1a">35</text>
<text x="655" y="322.5" font-size="3.7" text-anchor="start" fill="#1a1a1a">VIP_IN_3</text>
<text x="651" y="327" font-size="3.3" text-anchor="end" fill="#1a1a1a">5</text>
<text x="655" y="328.9" font-size="3.7" text-anchor="start" fill="#1a1a1a">RESET</text>
<text x="651" y="333" font-size="3.3" text-anchor="end" fill="#1a1a1a">10</text>
<text x="655" y="334.9" font-size="3.7" text-anchor="start" fill="#1a1a1a">BUSY</text>
<text x="651" y="339" font-size="3.3" text-anchor="end" fill="#1a1a1a">16</text>
<text x="655" y="340.9" font-size="3.7" text-anchor="start" fill="#1a1a1a">BUS_NEG</text>
<text x="651" y="344.8" font-size="3.3" text-anchor="end" fill="#1a1a1a">17</text>
<text x="655" y="346.7" font-size="3.7" text-anchor="start" fill="#1a1a1a">BUS_POS</text>
<text x="651" y="350.8" font-size="3.3" text-anchor="end" fill="#1a1a1a">7</text>
<text x="655" y="352.7" font-size="3.7" text-anchor="start" fill="#1a1a1a">RESET_FILTR</text>
<text x="651" y="356.8" font-size="3.3" text-anchor="end" fill="#1a1a1a">44</text>
<text x="655" y="358.7" font-size="3.7" text-anchor="start" fill="#1a1a1a">WDT_IN_T_CAP</text>
<text x="651" y="362.7" font-size="3.3" text-anchor="end" fill="#1a1a1a">29</text>
<text x="655" y="364.6" font-size="3.7" text-anchor="start" fill="#1a1a1a">IGN</text>
<text x="651" y="368.8" font-size="3.3" text-anchor="end" fill="#1a1a1a">32</text>
<text x="655" y="370.7" font-size="3.7" text-anchor="start" fill="#1a1a1a">HUB_POL</text>
<text x="651" y="371.9" font-size="3.3" text-anchor="end" fill="#1a1a1a">14</text>
<text x="651" y="377.7" font-size="3.3" text-anchor="end" fill="#1a1a1a">6</text>
<text x="651" y="383.6" font-size="3.3" text-anchor="end" fill="#1a1a1a">40</text>
<text x="651" y="389.4" font-size="3.3" text-anchor="end" fill="#1a1a1a">27</text>
<text x="651" y="392.7" font-size="3.3" text-anchor="end" fill="#1a1a1a">28</text>
<text x="651" y="398.9" font-size="3.3" text-anchor="end" fill="#1a1a1a">33</text>
<text x="651" y="404.9" font-size="3.3" text-anchor="end" fill="#1a1a1a">30</text>
<text x="651" y="410.6" font-size="3.3" text-anchor="end" fill="#1a1a1a">13</text>
<polyline points="647,372.5 652.4,372.5" fill="none" stroke="#5a5a5a" stroke-width="0.8"/>
<polyline points="647,384.2 652.4,384.2" fill="none" stroke="#5a5a5a" stroke-width="0.8"/>
<polyline points="647,390 652.4,390" fill="none" stroke="#5a5a5a" stroke-width="0.8"/>
<polyline points="647,405.5 652.4,405.5" fill="none" stroke="#5a5a5a" stroke-width="0.8"/>
<polyline points="647,411.2 652.4,411.2" fill="none" stroke="#5a5a5a" stroke-width="0.8"/>
<text x="714.5" y="302.7" font-size="3.3" text-anchor="start" fill="#1a1a1a">2</text>
<text x="710.5" y="304.6" font-size="3.7" text-anchor="end" fill="#1a1a1a">WDT_TICKLE</text>
<text x="714.5" y="308.9" font-size="3.3" text-anchor="start" fill="#1a1a1a">42</text>
<text x="710.5" y="310.8" font-size="3.7" text-anchor="end" fill="#1a1a1a">OSC_OUT</text>
<text x="714.5" y="314.7" font-size="3.3" text-anchor="start" fill="#1a1a1a">41</text>
<text x="710.5" y="316.6" font-size="3.7" text-anchor="end" fill="#1a1a1a">EXT_OSC_IN</text>
<text x="714.5" y="320.5" font-size="3.3" text-anchor="start" fill="#1a1a1a">24</text>
<text x="710.5" y="322.4" font-size="3.7" text-anchor="end" fill="#1a1a1a">VIP_IN_1'</text>
<text x="714.5" y="326.9" font-size="3.3" text-anchor="start" fill="#1a1a1a">11</text>
<text x="710.5" y="328.8" font-size="3.7" text-anchor="end" fill="#1a1a1a">BUSY_IN'</text>
<text x="714.5" y="333" font-size="3.3" text-anchor="start" fill="#1a1a1a">4</text>
<text x="710.5" y="334.9" font-size="3.7" text-anchor="end" fill="#1a1a1a">RESET'</text>
<text x="714.5" y="339" font-size="3.3" text-anchor="start" fill="#1a1a1a">29</text>
<text x="710.5" y="340.9" font-size="3.7" text-anchor="end" fill="#1a1a1a">IGN'</text>
<text x="714.5" y="344.8" font-size="3.3" text-anchor="start" fill="#1a1a1a">21</text>
<text x="710.5" y="346.7" font-size="3.7" text-anchor="end" fill="#1a1a1a">VIP_IN_2'</text>
<text x="714.5" y="350.8" font-size="3.3" text-anchor="start" fill="#1a1a1a">36</text>
<text x="710.5" y="352.7" font-size="3.7" text-anchor="end" fill="#1a1a1a">VIP_IN_3'</text>
<text x="714.5" y="356.8" font-size="3.3" text-anchor="start" fill="#1a1a1a">30</text>
<text x="710.5" y="358.7" font-size="3.7" text-anchor="end" fill="#1a1a1a">HUB_INV</text>
<text x="714.5" y="362.7" font-size="3.3" text-anchor="start" fill="#1a1a1a">20</text>
<text x="710.5" y="364.6" font-size="3.7" text-anchor="end" fill="#1a1a1a">PTT</text>
<text x="714.5" y="368.8" font-size="3.3" text-anchor="start" fill="#1a1a1a">23</text>
<text x="710.5" y="370.7" font-size="3.7" text-anchor="end" fill="#1a1a1a">RX_SKTA</text>
<text x="714.5" y="374.7" font-size="3.3" text-anchor="start" fill="#1a1a1a">19</text>
<text x="710.5" y="376.6" font-size="3.7" text-anchor="end" fill="#1a1a1a">BUSY_OUT'</text>
<text x="714.5" y="380.6" font-size="3.3" text-anchor="start" fill="#1a1a1a">18</text>
<text x="710.5" y="382.5" font-size="3.7" text-anchor="end" fill="#1a1a1a">TX_SKTA</text>
<text x="714.5" y="386.5" font-size="3.3" text-anchor="start" fill="#1a1a1a">37</text>
<text x="710.5" y="388.4" font-size="3.7" text-anchor="end" fill="#1a1a1a">PTT'</text>
<text x="714.5" y="392.7" font-size="3.3" text-anchor="start" fill="#1a1a1a">31</text>
<text x="710.5" y="394.6" font-size="3.7" text-anchor="end" fill="#1a1a1a">RES_HUB</text>
<text x="714.5" y="398.9" font-size="3.3" text-anchor="start" fill="#1a1a1a">12</text>
<text x="714.5" y="404.9" font-size="3.3" text-anchor="start" fill="#1a1a1a">16</text>
<text x="714.5" y="410.5" font-size="3.3" text-anchor="start" fill="#1a1a1a">34</text>
<polyline points="712.6,399.5 718,399.5" fill="none" stroke="#5a5a5a" stroke-width="0.8"/>
<polyline points="712.6,405.5 718,405.5" fill="none" stroke="#5a5a5a" stroke-width="0.8"/>
<text x="677.6" y="282" font-size="3.5" text-anchor="end" fill="#1a1a1a" transform="rotate(-90 677.6 282)">+5V</text>
<text x="675.4" y="277.5" font-size="3" text-anchor="end" fill="#1a1a1a">47</text>
<text x="684" y="282" font-size="3.5" text-anchor="end" fill="#1a1a1a" transform="rotate(-90 684 282)">RDY_NEG</text>
<text x="681.8" y="277.5" font-size="3" text-anchor="end" fill="#1a1a1a">1</text>
<text x="689.4" y="282" font-size="3.5" text-anchor="end" fill="#1a1a1a" transform="rotate(-90 689.4 282)">RAVEN</text>
<text x="687.2" y="277.5" font-size="3" text-anchor="end" fill="#1a1a1a">35</text>
<text x="677.2" y="414" font-size="3.4" text-anchor="start" fill="#1a1a1a" transform="rotate(-90 677.2 414)">GND</text>
<text x="675" y="421" font-size="3" text-anchor="end" fill="#1a1a1a">1</text>
<text x="683.9" y="414" font-size="3.4" text-anchor="start" fill="#1a1a1a" transform="rotate(-90 683.9 414)">GND</text>
<text x="681.7" y="421" font-size="3" text-anchor="end" fill="#1a1a1a">41</text>
<text x="688.8" y="414" font-size="3.4" text-anchor="start" fill="#1a1a1a" transform="rotate(-90 688.8 414)">GND</text>
<text x="686.6" y="421" font-size="3" text-anchor="end" fill="#1a1a1a">3</text>
<polyline points="676,416.8 676,423.2" fill="none" stroke="#5a5a5a" stroke-width="1.1"/>
<polyline points="682.7,416.8 682.7,437.2" fill="none" stroke="#5a5a5a" stroke-width="1.1"/>
<polyline points="687.6,416.8 687.6,423.2" fill="none" stroke="#5a5a5a" stroke-width="1.1"/>
<polyline points="640.5,369.4 640.5,423.2 682.7,423.2" fill="none" stroke="#5a5a5a" stroke-width="1.1"/>
<circle cx="676" cy="423.2" r="1.35" fill="#222"/>
<circle cx="682.7" cy="423.2" r="1.35" fill="#222"/>
<path d="M678.7,437.4H686.7M680,438.9H685.4M681.4,440.4H684" stroke="#444" stroke-width="0.9" fill="none"/>
<polyline points="580.3,303.6 652.4,303.6" fill="none" stroke="#5a5a5a" stroke-width="1.1"/>
<polyline points="580.3,303.6 580.3,416.8 592.2,416.8" fill="none" stroke="#5a5a5a" stroke-width="1.1"/>
<circle cx="592.2" cy="416.8" r="1.35" fill="#222"/>
<polyline points="562.9,255.3 562.9,309.5 652.4,309.5" fill="none" stroke="#5a5a5a" stroke-width="1.1"/>
<polyline points="640.5,369.4 652.4,369.4" fill="none" stroke="#5a5a5a" stroke-width="1.1"/>
<polyline points="562.5,351.4 652.4,351.4" fill="none" stroke="#5a5a5a" stroke-width="1.1"/>
<polyline points="562.5,351.4 562.5,409.8" fill="none" stroke="#5a5a5a" stroke-width="1.1"/>
<line x1="557.5" y1="410" x2="567.5" y2="410" stroke="#444" stroke-width="1.2"/>
<line x1="557.5" y1="413.1" x2="567.5" y2="413.1" stroke="#444" stroke-width="1.2"/>
<polyline points="562.5,413.1 562.5,426.8" fill="none" stroke="#5a5a5a" stroke-width="1.1"/>
<path d="M558.5,426.8H566.5M559.8,428.3H565.2M561.2,429.8H563.8" stroke="#444" stroke-width="0.9" fill="none"/>
<text x="556" y="410.5" font-size="3.4" text-anchor="end" fill="#1a1a1a">C1</text>
<text x="556" y="415" font-size="3.4" text-anchor="end" fill="#1a1a1a">0.1uF</text>
<polyline points="550.3,357.4 652.4,357.4" fill="none" stroke="#5a5a5a" stroke-width="1.1"/>
<polyline points="550.3,357.4 550.3,379.3" fill="none" stroke="#5a5a5a" stroke-width="1.1"/>
<line x1="545.3" y1="379.5" x2="555.3" y2="379.5" stroke="#444" stroke-width="1.2"/>
<line x1="545.3" y1="383.4" x2="555.3" y2="383.4" stroke="#444" stroke-width="1.2"/>
<polyline points="550.3,383.4 550.3,397" fill="none" stroke="#5a5a5a" stroke-width="1.1"/>
<path d="M546.3,397H554.3M547.6,398.5H553M549,400H551.6" stroke="#444" stroke-width="0.9" fill="none"/>
<text x="544" y="378.5" font-size="3.4" text-anchor="end" fill="#1a1a1a">C7</text>
<text x="544" y="383" font-size="3.4" text-anchor="end" fill="#1a1a1a">.01uF</text>
<path d="M571.6,272.4L574.5,268.2L577.4,272.4Z" fill="none" stroke="#444" stroke-width="1"/>
<text x="574.5" y="266.6" font-size="3.6" text-anchor="middle" fill="#1a1a1a">+5V</text>
<polyline points="574.5,272.4 574.5,285" fill="none" stroke="#5a5a5a" stroke-width="1.1"/>
<polyline points="574.5,285 576.9,286.12 572.1,288.38 576.9,290.62 572.1,292.88 576.9,295.12 572.1,297.38 574.5,298.5" fill="none" stroke="#444" stroke-width="1.1"/>
<polyline points="574.5,298.5 574.5,315.3" fill="none" stroke="#5a5a5a" stroke-width="1.1"/>
<circle cx="574.5" cy="315.3" r="1.35" fill="#222"/>
<text x="579" y="289.5" font-size="3.4" text-anchor="start" fill="#1a1a1a">R175</text>
<text x="579" y="294" font-size="3.4" text-anchor="start" fill="#1a1a1a">4.7K</text>
<path d="M589.5,272.4L592.4,268.2L595.3,272.4Z" fill="none" stroke="#444" stroke-width="1"/>
<text x="592.4" y="266.6" font-size="3.6" text-anchor="middle" fill="#1a1a1a">+5V</text>
<polyline points="592.4,272.4 592.4,278" fill="none" stroke="#5a5a5a" stroke-width="1.1"/>
<polyline points="592.4,278 594.8,279.23 590,281.68 594.8,284.12 590,286.57 594.8,289.02 590,291.47 592.4,292.7" fill="none" stroke="#444" stroke-width="1.1"/>
<polyline points="592.4,292.7 592.4,321.2" fill="none" stroke="#5a5a5a" stroke-width="1.1"/>
<circle cx="592.4" cy="321.2" r="1.35" fill="#222"/>
<text x="596.5" y="284.5" font-size="3.4" text-anchor="start" fill="#1a1a1a">R176</text>
<text x="596.5" y="290" font-size="3.4" text-anchor="start" fill="#1a1a1a">4.7K</text>
<polyline points="610.2,261.5 610.2,435" fill="none" stroke="#5a5a5a" stroke-width="1.1"/>
<polyline points="634.4,273.6 676.4,273.6" fill="none" stroke="#5a5a5a" stroke-width="1.1"/>
<polyline points="634.4,273.6 634.4,378.3 652.4,378.3" fill="none" stroke="#5a5a5a" stroke-width="1.1"/>
<polyline points="676.4,267.4 682.8,267.4 682.8,279.4" fill="none" stroke="#5a5a5a" stroke-width="1.1"/>
<path d="M589.3,386.2L592.2,382L595.1,386.2Z" fill="none" stroke="#444" stroke-width="1"/>
<text x="592.2" y="380.4" font-size="3.6" text-anchor="middle" fill="#1a1a1a">+5V</text>
<polyline points="592.2,386.2 592.2,396.8" fill="none" stroke="#5a5a5a" stroke-width="1.1"/>
<line x1="587.2" y1="397" x2="597.2" y2="397" stroke="#444" stroke-width="1.2"/>
<path d="M587.2,402.1 Q592.2,399.1 597.2,402.1" fill="none" stroke="#444" stroke-width="1.2"/>
<polyline points="592.2,400.6 592.2,452" fill="none" stroke="#5a5a5a" stroke-width="1.1"/>
<text x="589.8" y="395.2" font-size="4.6" text-anchor="end" fill="#1a1a1a">+</text>
<text x="599.7" y="396.4" font-size="3.4" text-anchor="start" fill="#1a1a1a">C6</text>
<text x="599.7" y="401" font-size="3.4" text-anchor="start" fill="#1a1a1a">1.5uF</text>
<polyline points="592.2,452 594.6,453.12 589.8,455.38 594.6,457.62 589.8,459.88 594.6,462.12 589.8,464.38 592.2,465.5" fill="none" stroke="#444" stroke-width="1.1"/>
<polyline points="592.2,465.5 592.2,475" fill="none" stroke="#5a5a5a" stroke-width="1.1"/>
<path d="M588.2,475H596.2M589.5,476.5H594.9M590.9,478H593.5" stroke="#444" stroke-width="0.9" fill="none"/>
<text x="587" y="458.4" font-size="3.4" text-anchor="end" fill="#1a1a1a">R200</text>
<text x="587" y="464" font-size="3.4" text-anchor="end" fill="#1a1a1a">1MEG</text>
<polyline points="652.4,399.5 628.5,399.5 628.5,428" fill="none" stroke="#5a5a5a" stroke-width="1.1"/>
<polyline points="628.5,428 630.9,429.17 626.1,431.5 630.9,433.83 626.1,436.17 630.9,438.5 626.1,440.83 628.5,442" fill="none" stroke="#444" stroke-width="1.1"/>
<polyline points="628.5,442 628.5,448" fill="none" stroke="#5a5a5a" stroke-width="1.1"/>
<path d="M625.6,448L628.5,452.2L631.4,448Z" fill="none" stroke="#444" stroke-width="1"/>
<text x="628.5" y="457.4" font-size="3.6" text-anchor="middle" fill="#1a1a1a">SWB+</text>
<text x="633.8" y="435" font-size="3.4" text-anchor="start" fill="#1a1a1a">R?7?</text>
<polyline points="712.6,393.3 736.3,393.3 736.3,446.9 713.5,446.9" fill="none" stroke="#5a5a5a" stroke-width="1.1"/>
<polyline points="699,446.9 700.21,444.5 702.62,449.3 705.04,444.5 707.46,449.3 709.88,444.5 712.29,449.3 713.5,446.9" fill="none" stroke="#444" stroke-width="1.1"/>
<polyline points="699,446.9 658.4,446.9 658.4,530.7" fill="none" stroke="#5a5a5a" stroke-width="1.1"/>
<text x="706" y="439" font-size="3.4" text-anchor="middle" fill="#1a1a1a">R34</text>
<text x="706" y="443.5" font-size="3.4" text-anchor="middle" fill="#1a1a1a">4.7K</text>
<circle cx="658.4" cy="495" r="1.35" fill="#222"/>
<polyline points="658.4,495 640.6,495 640.6,501" fill="none" stroke="#5a5a5a" stroke-width="1.1"/>
<rect x="634.6" y="501" width="12" height="12" fill="none" stroke="#444" stroke-width="0.9"/>
<path d="M637.6,510L640.6,504L643.6,510Z" fill="none" stroke="#444" stroke-width="0.9"/>
<path d="M636.8,504.8L637.6,504H643.6L644.4,503.2" fill="none" stroke="#444" stroke-width="0.9"/>
<polyline points="640.6,501 640.6,513" fill="none" stroke="#444" stroke-width="0.8"/>
<polyline points="640.6,513 640.6,522.5" fill="none" stroke="#5a5a5a" stroke-width="1.1"/>
<circle cx="640.6" cy="518.8" r="1.35" fill="#222"/>
<polyline points="634.6,507 628.2,507 628.2,518.8 640.6,518.8" fill="none" stroke="#444" stroke-width="0.8"/>
<path d="M636.6,522.8H644.6M637.9,524.3H643.3M639.3,525.8H641.9" stroke="#444" stroke-width="0.9" fill="none"/>
<text x="649" y="506" font-size="3.4" text-anchor="start" fill="#1a1a1a">VR18</text>
<text x="649" y="510.5" font-size="3.4" text-anchor="start" fill="#1a1a1a">15V</text>
<circle cx="658.4" cy="530.7" r="1.35" fill="#222"/>
<circle cx="586.5" cy="530.7" r="1.35" fill="#222"/>
<rect x="568.6" y="525" width="11.9" height="11.4" fill="none" stroke="#444" stroke-width="0.9"/>
<path d="M577.55,527.7L571.55,530.7L577.55,533.7Z M571.55,527.7V533.7" fill="none" stroke="#444" stroke-width="0.9"/>
<polyline points="568.6,530.7 580.5,530.7" fill="none" stroke="#444" stroke-width="0.8"/>
<polyline points="586.5,530.7 586.5,518.8 574,518.8 574,525" fill="none" stroke="#444" stroke-width="0.9"/>
<text x="567" y="518" font-size="3.4" text-anchor="middle" fill="#1a1a1a">CR76</text>
<path d="M697.2,481.6L700.1,477.4L703,481.6Z" fill="none" stroke="#444" stroke-width="1"/>
<text x="700.1" y="475.8" font-size="3.6" text-anchor="middle" fill="#1a1a1a">+5V</text>
<polyline points="700.1,481.6 700.1,487.5" fill="none" stroke="#5a5a5a" stroke-width="1.1"/>
<polyline points="700.1,487.5 702.5,488.71 697.7,491.12 702.5,493.54 697.7,495.96 702.5,498.38 697.7,500.79 700.1,502" fill="none" stroke="#444" stroke-width="1.1"/>
<polyline points="700.1,502 700.1,530.7" fill="none" stroke="#5a5a5a" stroke-width="1.1"/>
<circle cx="700.1" cy="530.7" r="1.35" fill="#222"/>
<text x="696.4" y="496.1" font-size="3.4" text-anchor="end" fill="#1a1a1a">R176</text>
<text x="696.4" y="501" font-size="3.4" text-anchor="end" fill="#1a1a1a">4.7K</text>
<path d="M727.2,481.6L730.1,477.4L733,481.6Z" fill="none" stroke="#444" stroke-width="1"/>
<text x="730.1" y="475.8" font-size="3.6" text-anchor="middle" fill="#1a1a1a">+5V</text>
<polyline points="730.1,481.6 730.1,487.5" fill="none" stroke="#5a5a5a" stroke-width="1.1"/>
<polyline points="730.1,487.5 732.5,488.71 727.7,491.12 732.5,493.54 727.7,495.96 732.5,498.38 727.7,500.79 730.1,502" fill="none" stroke="#444" stroke-width="1.1"/>
<polyline points="730.1,502 730.1,506.5 748.1,506.5" fill="none" stroke="#5a5a5a" stroke-width="1.1"/>
<text x="736.7" y="494.9" font-size="3.4" text-anchor="start" fill="#1a1a1a">R177</text>
<text x="736.7" y="499.2" font-size="3.4" text-anchor="start" fill="#1a1a1a">4.7K</text>
<circle cx="730.2" cy="357.4" r="1.35" fill="#222"/>
<polyline points="730.2,357.4 730.2,434.6 723.3,434.6 723.3,429.7" fill="none" stroke="#5a5a5a" stroke-width="1.1"/>
<polyline points="723.3,415.8 725.7,416.96 720.9,419.27 725.7,421.59 720.9,423.91 725.7,426.23 720.9,428.54 723.3,429.7" fill="none" stroke="#444" stroke-width="1.1"/>
<polyline points="723.3,415.8 723.3,411.1 712.6,411.1" fill="none" stroke="#5a5a5a" stroke-width="1.1"/>
<text x="718" y="423.5" font-size="3.4" text-anchor="end" fill="#1a1a1a">R33</text>
<polyline points="712.6,309.5 730,309.5" fill="none" stroke="#5a5a5a" stroke-width="1.1"/>
<polyline points="712.6,387.1 748.1,387.1 748.1,398.2" fill="none" stroke="#5a5a5a" stroke-width="1.1"/>
<polyline points="748.1,398.2 750.5,399.31 745.7,401.52 750.5,403.74 745.7,405.96 750.5,408.18 745.7,410.39 748.1,411.5" fill="none" stroke="#444" stroke-width="1.1"/>
<text x="742.5" y="402" font-size="3.4" text-anchor="end" fill="#1a1a1a">R31</text>
<text x="742.5" y="406.5" font-size="3.4" text-anchor="end" fill="#1a1a1a">47K</text>
<circle cx="748.1" cy="417.2" r="1.35" fill="#222"/>
<circle cx="748.1" cy="506.5" r="1.35" fill="#222"/>
<circle cx="748.1" cy="518.7" r="1.35" fill="#222"/>
<polyline points="748.1,417.2 796.1,417.2" fill="none" stroke="#5a5a5a" stroke-width="1.1"/>
<circle cx="796.1" cy="417.2" r="1.35" fill="#222"/>
<polyline points="796.1,417.2 796.1,423" fill="none" stroke="#5a5a5a" stroke-width="1.1"/>
<rect x="789.7" y="423" width="12.8" height="12.6" fill="none" stroke="#444" stroke-width="0.9"/>
<path d="M793.1,432.3L796.1,426.3L799.1,432.3Z" fill="none" stroke="#444" stroke-width="0.9"/>
<path d="M792.3,427.1L793.1,426.3H799.1L799.9,425.5" fill="none" stroke="#444" stroke-width="0.9"/>
<polyline points="796.1,423 796.1,435.6" fill="none" stroke="#444" stroke-width="0.8"/>
<polyline points="796.1,435.6 796.1,451" fill="none" stroke="#5a5a5a" stroke-width="1.1"/>
<circle cx="796.1" cy="441" r="1.35" fill="#222"/>
<polyline points="789.7,429.3 784,429.3 784,441 796.1,441" fill="none" stroke="#444" stroke-width="0.8"/>
<path d="M792.1,451H800.1M793.4,452.5H798.8M794.8,454H797.4" stroke="#444" stroke-width="0.9" fill="none"/>
<text x="805" y="428.5" font-size="3.4" text-anchor="start" fill="#1a1a1a">VR3</text>
<text x="805" y="433" font-size="3.4" text-anchor="start" fill="#1a1a1a">12V</text>
<polyline points="838,427 838,417.2 861.8,417.2" fill="none" stroke="#5a5a5a" stroke-width="1.1"/>
<circle cx="861.8" cy="417.2" r="1.35" fill="#222"/>
<line x1="833" y1="427.2" x2="843" y2="427.2" stroke="#444" stroke-width="1.2"/>
<line x1="833" y1="430.4" x2="843" y2="430.4" stroke="#444" stroke-width="1.2"/>
<polyline points="838,430.4 838,455.8" fill="none" stroke="#5a5a5a" stroke-width="1.1"/>
<path d="M834,455.8H842M835.3,457.3H840.7M836.7,458.8H839.3" stroke="#444" stroke-width="0.9" fill="none"/>
<text x="819" y="424" font-size="3.4" text-anchor="start" fill="#1a1a1a">C41</text>
<text x="819" y="428.5" font-size="3.4" text-anchor="start" fill="#1a1a1a">470pF</text>
<polyline points="712.6,303.3 861.8,303.3 861.8,620.2 981,620.2" fill="none" stroke="#5a5a5a" stroke-width="1.1"/>
<path d="M983.6,617.8L981,620.2L983.6,622.6M986,617.8L983.4,620.2L986,622.6" fill="none" stroke="#444" stroke-width="0.9"/>
<text x="978.9" y="617.5" font-size="3.6" text-anchor="end" fill="#1a1a1a">STROBE</text>
<polyline points="712.6,315.3 981,315.3" fill="none" stroke="#5a5a5a" stroke-width="1.1"/>
<path d="M983.6,312.9L981,315.3L983.6,317.7M986,312.9L983.4,315.3L986,317.7" fill="none" stroke="#444" stroke-width="0.9"/>
<text x="977.8" y="312.5" font-size="3.6" text-anchor="end" fill="#1a1a1a">EXT_OSC_IN</text>
<path d="M864.7,254.5L867.6,250.3L870.5,254.5Z" fill="none" stroke="#444" stroke-width="1"/>
<text x="867.6" y="248.7" font-size="3.6" text-anchor="middle" fill="#1a1a1a">+5V</text>
<polyline points="867.6,254.5 867.6,260.8" fill="none" stroke="#5a5a5a" stroke-width="1.1"/>
<polyline points="867.6,260.8 870,262.01 865.2,264.43 870,266.84 865.2,269.26 870,271.68 865.2,274.09 867.6,275.3" fill="none" stroke="#444" stroke-width="1.1"/>
<polyline points="867.6,275.3 867.6,321.1 712.6,321.1" fill="none" stroke="#5a5a5a" stroke-width="1.1"/>
<text x="874" y="264.5" font-size="3.4" text-anchor="start" fill="#1a1a1a">R90</text>
<text x="874" y="269" font-size="3.4" text-anchor="start" fill="#1a1a1a">100K</text>
<circle cx="867.6" cy="279.7" r="1.35" fill="#222"/>
<polyline points="867.6,279.7 981,279.7" fill="none" stroke="#5a5a5a" stroke-width="1.1"/>
<path d="M981,277.3L983.6,279.7L981,282.1M983.4,277.3L986,279.7L983.4,282.1" fill="none" stroke="#444" stroke-width="0.9"/>
<text x="977.8" y="277.2" font-size="3.6" text-anchor="end" fill="#1a1a1a">VIP_IN_1'</text>
<polyline points="712.6,345.4 874.4,345.4 874.4,285.6 981,285.6" fill="none" stroke="#5a5a5a" stroke-width="1.1"/>
<path d="M981,283.2L983.6,285.6L981,288M983.4,283.2L986,285.6L983.4,288" fill="none" stroke="#444" stroke-width="0.9"/>
<text x="977.8" y="283.2" font-size="3.6" text-anchor="end" fill="#1a1a1a">VIP_IN_2'</text>
<polyline points="712.6,351.4 879.6,351.4 879.6,291.5 981,291.5" fill="none" stroke="#5a5a5a" stroke-width="1.1"/>
<path d="M981,289.1L983.6,291.5L981,293.9M983.4,289.1L986,291.5L983.4,293.9" fill="none" stroke="#444" stroke-width="0.9"/>
<text x="977.8" y="289.1" font-size="3.6" text-anchor="end" fill="#1a1a1a">VIP_IN_3'</text>
<polyline points="712.6,327.5 939.5,327.5 939.5,470.9 981,470.9" fill="none" stroke="#5a5a5a" stroke-width="1.1"/>
<path d="M981,468.5L983.6,470.9L981,473.3M983.4,468.5L986,470.9L983.4,473.3" fill="none" stroke="#444" stroke-width="0.9"/>
<text x="977.8" y="468.3" font-size="3.6" text-anchor="end" fill="#1a1a1a">BUSY_IN'</text>
<polyline points="712.6,333.6 927.7,333.6 927.7,441.2 981,441.2" fill="none" stroke="#5a5a5a" stroke-width="1.1"/>
<path d="M981,438.8L983.6,441.2L981,443.6M983.4,438.8L986,441.2L983.4,443.6" fill="none" stroke="#444" stroke-width="0.9"/>
<text x="977.8" y="438.6" font-size="3.6" text-anchor="end" fill="#1a1a1a">RESET'</text>
<polyline points="712.6,339.6 915.9,339.6 915.9,525 981,525" fill="none" stroke="#5a5a5a" stroke-width="1.1"/>
<path d="M981,522.6L983.6,525L981,527.4M983.4,522.6L986,525L983.4,527.4" fill="none" stroke="#444" stroke-width="0.9"/>
<text x="977.8" y="522.4" font-size="3.6" text-anchor="end" fill="#1a1a1a">IGN'</text>
<polyline points="712.6,357.4 910,357.4 910,417.4 981,417.4" fill="none" stroke="#5a5a5a" stroke-width="1.1"/>
<path d="M981,415L983.6,417.4L981,419.8M983.4,415L986,417.4L983.4,419.8" fill="none" stroke="#444" stroke-width="0.9"/>
<text x="977.8" y="414.8" font-size="3.6" text-anchor="end" fill="#1a1a1a">HUB_INV</text>
<polyline points="712.6,363.2 981,363.2" fill="none" stroke="#5a5a5a" stroke-width="1.1"/>
<path d="M981,360.8L983.6,363.2L981,365.6M983.4,360.8L986,363.2L983.4,365.6" fill="none" stroke="#444" stroke-width="0.9"/>
<text x="977.8" y="360.6" font-size="3.6" text-anchor="end" fill="#1a1a1a">PTT</text>
<polyline points="712.6,369.4 903.8,369.4 903.8,488.9 981,488.9" fill="none" stroke="#5a5a5a" stroke-width="1.1"/>
<path d="M981,486.5L983.6,488.9L981,491.3M983.4,486.5L986,488.9L983.4,491.3" fill="none" stroke="#444" stroke-width="0.9"/>
<text x="977.8" y="486.3" font-size="3.6" text-anchor="end" fill="#1a1a1a">RX_DATA</text>
<polyline points="712.6,375.3 898.4,375.3 898.4,560.3 981,560.3" fill="none" stroke="#5a5a5a" stroke-width="1.1"/>
<path d="M981,557.9L983.6,560.3L981,562.7M983.4,557.9L986,560.3L983.4,562.7" fill="none" stroke="#444" stroke-width="0.9"/>
<text x="977.8" y="557.7" font-size="3.6" text-anchor="end" fill="#1a1a1a">BUSY_OUT'</text>
<polyline points="712.6,381.2 892,381.2 892,506.3 981,506.3" fill="none" stroke="#5a5a5a" stroke-width="1.1"/>
<path d="M981,503.9L983.6,506.3L981,508.7M983.4,503.9L986,506.3L983.4,508.7" fill="none" stroke="#444" stroke-width="0.9"/>
<text x="977.8" y="503.7" font-size="3.6" text-anchor="end" fill="#1a1a1a">TX_DATA</text>
<path d="M983.6,654L981,656.4L983.6,658.8M986,654L983.4,656.4L986,658.8" fill="none" stroke="#444" stroke-width="0.9"/>
<text x="970.8" y="653.5" font-size="3.8" text-anchor="end" fill="#1a1a1a">SP-1_VF/SENSE 1</text>
<path d="M983.6,671.9L981,674.3L983.6,676.7M986,671.9L983.4,674.3L986,676.7" fill="none" stroke="#444" stroke-width="0.9"/>
<text x="969.3" y="671.3" font-size="3.8" text-anchor="end" fill="#1a1a1a">SP-2_VF/SENSE 2</text>
<rect x="799" y="495.1" width="21.2" height="124.1" fill="none" stroke="#2a2a2a" stroke-width="1.6"/>
<text x="805" y="489" font-size="3.6" text-anchor="middle" fill="#1a1a1a">P104</text>
<path d="M801.5,505.30L807.5,507.10L801.5,508.90M802,507.10H807.5" fill="none" stroke="#444" stroke-width="0.9"/>
<text x="812.5" y="508.4" font-size="3.4" text-anchor="start" fill="#1a1a1a">4</text>
<path d="M801.5,516.90L807.5,518.70L801.5,520.50M802,518.70H807.5" fill="none" stroke="#444" stroke-width="0.9"/>
<text x="812.5" y="520" font-size="3.4" text-anchor="start" fill="#1a1a1a">6</text>
<text x="797" y="516.9" font-size="3.4" text-anchor="end" fill="#1a1a1a">PTT</text>
<path d="M801.5,528.90L807.5,530.70L801.5,532.50M802,530.70H807.5" fill="none" stroke="#444" stroke-width="0.9"/>
<text x="812.5" y="532" font-size="3.4" text-anchor="start" fill="#1a1a1a">3</text>
<text x="797" y="528.9" font-size="3.4" text-anchor="end" fill="#1a1a1a">HUB</text>
<path d="M801.5,541.00L807.5,542.80L801.5,544.60M802,542.80H807.5" fill="none" stroke="#444" stroke-width="0.9"/>
<text x="812.5" y="544.1" font-size="3.4" text-anchor="start" fill="#1a1a1a">8</text>
<text x="797" y="541" font-size="3.4" text-anchor="end" fill="#1a1a1a">MIC HI</text>
<path d="M801.5,552.70L807.5,554.50L801.5,556.30M802,554.50H807.5" fill="none" stroke="#444" stroke-width="0.9"/>
<text x="812.5" y="555.8" font-size="3.4" text-anchor="start" fill="#1a1a1a">7</text>
<text x="797" y="552.7" font-size="3.4" text-anchor="end" fill="#1a1a1a">MIC LO</text>
<path d="M801.5,564.80L807.5,566.60L801.5,568.40M802,566.60H807.5" fill="none" stroke="#444" stroke-width="0.9"/>
<text x="812.5" y="567.9" font-size="3.4" text-anchor="start" fill="#1a1a1a">2</text>
<text x="797" y="564.8" font-size="3.4" text-anchor="end" fill="#1a1a1a">SNETWE</text>
<path d="M801.5,576.70L807.5,578.50L801.5,580.30M802,578.50H807.5" fill="none" stroke="#444" stroke-width="0.9"/>
<text x="812.5" y="579.8" font-size="3.4" text-anchor="start" fill="#1a1a1a">10</text>
<text x="797" y="576.7" font-size="3.4" text-anchor="end" fill="#1a1a1a">SNETKEY</text>
<path d="M801.5,582.60L807.5,584.40L801.5,586.20M802,584.40H807.5" fill="none" stroke="#444" stroke-width="0.9"/>
<text x="812.5" y="585.7" font-size="3.4" text-anchor="start" fill="#1a1a1a">9</text>
<text x="797" y="582.6" font-size="3.4" text-anchor="end" fill="#1a1a1a">SNETKID</text>
<path d="M801.5,594.80L807.5,596.60L801.5,598.40M802,596.60H807.5" fill="none" stroke="#444" stroke-width="0.9"/>
<text x="812.5" y="597.9" font-size="3.4" text-anchor="start" fill="#1a1a1a">5</text>
<path d="M801.5,606.80L807.5,608.60L801.5,610.40M802,608.60H807.5" fill="none" stroke="#444" stroke-width="0.9"/>
<text x="812.5" y="609.9" font-size="3.4" text-anchor="start" fill="#1a1a1a">1</text>
<polyline points="748.1,518.7 801.9,518.7" fill="none" stroke="#5a5a5a" stroke-width="1.1"/>
<path d="M775.1,493.8L778,489.6L780.9,493.8Z" fill="none" stroke="#444" stroke-width="1"/>
<text x="778" y="488" font-size="3.6" text-anchor="middle" fill="#1a1a1a">SWB+</text>
<polyline points="778,493.8 778,507.1 801.9,507.1" fill="none" stroke="#5a5a5a" stroke-width="1.1"/>
<polyline points="801.9,596.6 784.1,596.6 784.1,618" fill="none" stroke="#5a5a5a" stroke-width="1.1"/>
<circle cx="784.1" cy="608.6" r="1.35" fill="#222"/>
<polyline points="784.1,608.6 801.9,608.6" fill="none" stroke="#5a5a5a" stroke-width="1.1"/>
<path d="M780.1,618H788.1M781.4,619.5H786.8M782.8,621H785.4" stroke="#444" stroke-width="0.9" fill="none"/>
</svg>
</body></html>
